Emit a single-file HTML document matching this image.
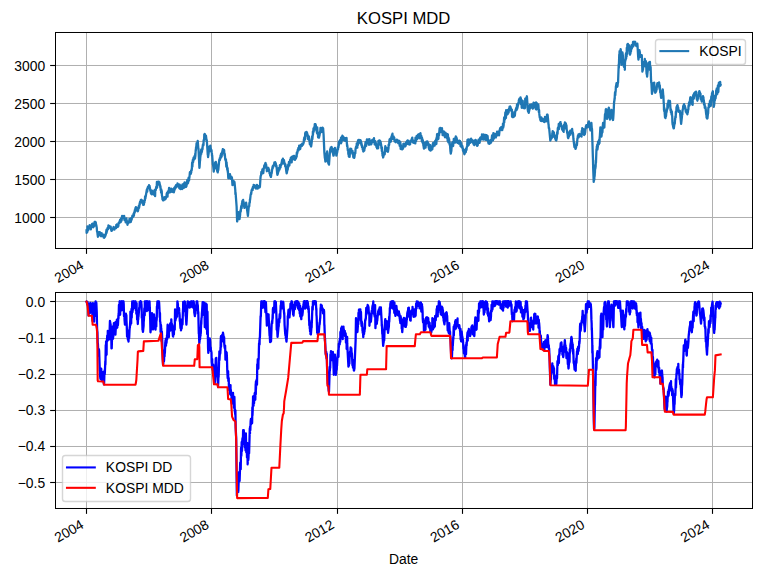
<!DOCTYPE html>
<html><head><meta charset="utf-8"><title>KOSPI MDD</title>
<style>html,body{margin:0;padding:0;background:#fff;font-family:"Liberation Sans",sans-serif;}svg{display:block}</style>
</head><body>
<svg width="762" height="577" viewBox="41.5100 37.4595 548.6400 415.4400" version="1.1"> <defs> <style type="text/css">*{stroke-linejoin: round; stroke-linecap: butt}</style> </defs> <g id="figure_1"> <g id="patch_1"> <path d="M 0 504 L 648 504 L 648 0 L 0 0 z " style="fill: #ffffff"/> </g> <g id="axes_1"> <g id="patch_2"> <path d="M 81 216.26 L 583.2 216.26 L 583.2 60.48 L 81 60.48 z " style="fill: #ffffff"/> </g> <g id="matplotlib.axis_1"> <g id="xtick_1"> <g id="line2d_1"> <path d="M 103.79 216.37 L 103.79 60.85" clip-path="url(#p7fc77e7408)" style="fill: none; stroke: #b0b0b0; stroke-width: 0.72; stroke-linecap: square"/> </g> <g id="line2d_2"> <defs> <path id="m1504cfccaf" d="M 0 0 L 0 3.5 " style="stroke: #000000; stroke-width: 0.8"/> </defs> <g> <use href="#m1504cfccaf" x="103.7900" y="216.7395" style="stroke: #000000; stroke-width: 0.72"/> </g> </g> <g id="text_1"> <!-- 2004 --> <text transform="translate(80.5003 242.9993) rotate(-30)" x="25.45" y="0" text-anchor="end" font-size="10" fill="#000000" font-family="'Liberation Sans', sans-serif">2004</text> </g> </g> <g id="xtick_2"> <g id="line2d_3"> <path d="M 193.79 216.37 L 193.79 60.85" clip-path="url(#p7fc77e7408)" style="fill: none; stroke: #b0b0b0; stroke-width: 0.72; stroke-linecap: square"/> </g> <g id="line2d_4"> <g> <use href="#m1504cfccaf" x="193.7900" y="216.7395" style="stroke: #000000; stroke-width: 0.72"/> </g> </g> <g id="text_2"> <!-- 2008 --> <text transform="translate(170.6493 242.9993) rotate(-30)" x="25.45" y="0" text-anchor="end" font-size="10" fill="#000000" font-family="'Liberation Sans', sans-serif">2008</text> </g> </g> <g id="xtick_3"> <g id="line2d_5"> <path d="M 284.51 216.37 L 284.51 60.85" clip-path="url(#p7fc77e7408)" style="fill: none; stroke: #b0b0b0; stroke-width: 0.72; stroke-linecap: square"/> </g> <g id="line2d_6"> <g> <use href="#m1504cfccaf" x="284.5100" y="216.7395" style="stroke: #000000; stroke-width: 0.72"/> </g> </g> <g id="text_3"> <!-- 2012 --> <text transform="translate(260.7984 242.9993) rotate(-30)" x="25.45" y="0" text-anchor="end" font-size="10" fill="#000000" font-family="'Liberation Sans', sans-serif">2012</text> </g> </g> <g id="xtick_4"> <g id="line2d_7"> <path d="M 374.51 216.37 L 374.51 60.85" clip-path="url(#p7fc77e7408)" style="fill: none; stroke: #b0b0b0; stroke-width: 0.72; stroke-linecap: square"/> </g> <g id="line2d_8"> <g> <use href="#m1504cfccaf" x="374.5100" y="216.7395" style="stroke: #000000; stroke-width: 0.72"/> </g> </g> <g id="text_4"> <!-- 2016 --> <text transform="translate(350.9475 242.9993) rotate(-30)" x="25.45" y="0" text-anchor="end" font-size="10" fill="#000000" font-family="'Liberation Sans', sans-serif">2016</text> </g> </g> <g id="xtick_5"> <g id="line2d_9"> <path d="M 464.51 216.37 L 464.51 60.85" clip-path="url(#p7fc77e7408)" style="fill: none; stroke: #b0b0b0; stroke-width: 0.72; stroke-linecap: square"/> </g> <g id="line2d_10"> <g> <use href="#m1504cfccaf" x="464.5100" y="216.7395" style="stroke: #000000; stroke-width: 0.72"/> </g> </g> <g id="text_5"> <!-- 2020 --> <text transform="translate(441.0965 242.9993) rotate(-30)" x="25.45" y="0" text-anchor="end" font-size="10" fill="#000000" font-family="'Liberation Sans', sans-serif">2020</text> </g> </g> <g id="xtick_6"> <g id="line2d_11"> <path d="M 554.51 216.37 L 554.51 60.85" clip-path="url(#p7fc77e7408)" style="fill: none; stroke: #b0b0b0; stroke-width: 0.72; stroke-linecap: square"/> </g> <g id="line2d_12"> <g> <use href="#m1504cfccaf" x="554.5100" y="216.7395" style="stroke: #000000; stroke-width: 0.72"/> </g> </g> <g id="text_6"> <!-- 2024 --> <text transform="translate(531.2456 242.9993) rotate(-30)" x="25.45" y="0" text-anchor="end" font-size="10" fill="#000000" font-family="'Liberation Sans', sans-serif">2024</text> </g> </g> <g id="text_7"> <!-- Date --> <text x="332.10" y="256.6148" text-anchor="middle" font-size="10" fill="#000000" font-family="'Liberation Sans', sans-serif">Date</text> </g> </g> <g id="matplotlib.axis_2"> <g id="ytick_1"> <g id="line2d_13"> <path d="M 81.47 194.05 L 583.31 194.05" clip-path="url(#p7fc77e7408)" style="fill: none; stroke: #b0b0b0; stroke-width: 0.72; stroke-linecap: square"/> </g> <g id="line2d_14"> <defs> <path id="m5d545ce8f8" d="M 0 0 L -3.5 0 " style="stroke: #000000; stroke-width: 0.8"/> </defs> <g> <use href="#m5d545ce8f8" x="81.1100" y="194.0595" style="stroke: #000000; stroke-width: 0.72"/> </g> </g> <g id="text_8"> <!-- 1000 --> <text x="74.00" y="197.9814" text-anchor="end" font-size="10" fill="#000000" font-family="'Liberation Sans', sans-serif">1000</text> </g> </g> <g id="ytick_2"> <g id="line2d_15"> <path d="M 81.47 166.69 L 583.31 166.69" clip-path="url(#p7fc77e7408)" style="fill: none; stroke: #b0b0b0; stroke-width: 0.72; stroke-linecap: square"/> </g> <g id="line2d_16"> <g> <use href="#m5d545ce8f8" x="81.1100" y="166.6995" style="stroke: #000000; stroke-width: 0.72"/> </g> </g> <g id="text_9"> <!-- 1500 --> <text x="74.00" y="170.5954" text-anchor="end" font-size="10" fill="#000000" font-family="'Liberation Sans', sans-serif">1500</text> </g> </g> <g id="ytick_3"> <g id="line2d_17"> <path d="M 81.47 139.33 L 583.31 139.33" clip-path="url(#p7fc77e7408)" style="fill: none; stroke: #b0b0b0; stroke-width: 0.72; stroke-linecap: square"/> </g> <g id="line2d_18"> <g> <use href="#m5d545ce8f8" x="81.1100" y="139.3395" style="stroke: #000000; stroke-width: 0.72"/> </g> </g> <g id="text_10"> <!-- 2000 --> <text x="74.00" y="143.2093" text-anchor="end" font-size="10" fill="#000000" font-family="'Liberation Sans', sans-serif">2000</text> </g> </g> <g id="ytick_4"> <g id="line2d_19"> <path d="M 81.47 111.97 L 583.31 111.97" clip-path="url(#p7fc77e7408)" style="fill: none; stroke: #b0b0b0; stroke-width: 0.72; stroke-linecap: square"/> </g> <g id="line2d_20"> <g> <use href="#m5d545ce8f8" x="81.1100" y="111.9795" style="stroke: #000000; stroke-width: 0.72"/> </g> </g> <g id="text_11"> <!-- 2500 --> <text x="74.00" y="115.8233" text-anchor="end" font-size="10" fill="#000000" font-family="'Liberation Sans', sans-serif">2500</text> </g> </g> <g id="ytick_5"> <g id="line2d_21"> <path d="M 81.47 84.61 L 583.31 84.61" clip-path="url(#p7fc77e7408)" style="fill: none; stroke: #b0b0b0; stroke-width: 0.72; stroke-linecap: square"/> </g> <g id="line2d_22"> <g> <use href="#m5d545ce8f8" x="81.1100" y="84.6195" style="stroke: #000000; stroke-width: 0.72"/> </g> </g> <g id="text_12"> <!-- 3000 --> <text x="74.00" y="88.4372" text-anchor="end" font-size="10" fill="#000000" font-family="'Liberation Sans', sans-serif">3000</text> </g> </g> </g> <g id="line2d_23"> <path d="M 103.82 203.28 L 103.88 205.20 L 103.95 203.54 L 104.01 203.69 L 104.25 203.26 L 104.32 204.54 L 104.38 203.56 L 104.44 203.68 L 104.50 200.42 L 104.93 203.33 L 105.12 202.80 L 105.30 201.26 L 105.36 201.82 L 105.55 201.69 L 105.61 200.45 L 105.67 200.77 L 105.80 201.71 L 105.98 200.99 L 106.04 199.63 L 106.17 201.26 L 106.23 200.36 L 106.41 201.42 L 106.48 201.31 L 106.60 200.14 L 106.66 200.45 L 106.85 199.94 L 106.91 202.60 L 106.97 200.38 L 107.03 201.17 L 107.09 201.99 L 107.40 199.67 L 107.46 200.28 L 107.52 200.97 L 107.77 199.97 L 107.83 198.66 L 107.89 198.71 L 107.96 199.15 L 108.14 198.41 L 108.26 200.09 L 108.39 198.73 L 108.57 199.13 L 108.64 199.74 L 108.70 199.08 L 108.76 201.07 L 108.82 199.10 L 109.01 198.43 L 109.07 199.98 L 109.13 199.07 L 109.19 199.57 L 109.25 198.28 L 109.44 200.02 L 109.50 199.70 L 109.62 197.25 L 109.68 199.68 L 109.87 198.94 L 110.05 197.18 L 110.12 198.18 L 110.42 197.51 L 110.55 198.25 L 110.73 200.06 L 110.79 199.28 L 110.86 199.54 L 111.17 201.39 L 111.41 204.52 L 111.60 204.50 L 111.78 206.47 L 111.84 206.72 L 112.03 207.94 L 112.09 207.75 L 112.15 207.66 L 112.65 204.87 L 112.71 204.60 L 112.89 204.62 L 113.08 205.23 L 113.14 205.10 L 113.32 205.53 L 113.39 204.57 L 113.45 205.01 L 113.51 205.36 L 113.57 206.68 L 113.82 206.97 L 113.88 206.89 L 113.94 207.18 L 114.00 206.79 L 114.19 206.33 L 114.37 207.55 L 114.68 205.28 L 114.74 206.35 L 114.81 206.18 L 114.87 206.44 L 115.05 206.17 L 115.30 206.64 L 115.48 207.11 L 115.55 206.59 L 115.61 206.64 L 115.73 207.44 L 115.92 207.26 L 116.04 208.41 L 116.16 206.41 L 116.53 208.65 L 116.59 208.44 L 116.84 208.09 L 117.03 207.51 L 117.21 207.88 L 117.34 206.86 L 117.46 206.88 L 117.64 206.56 L 118.20 202.84 L 118.26 205.17 L 118.32 203.80 L 118.51 203.99 L 118.75 202.20 L 118.94 202.48 L 119.00 201.51 L 119.12 202.67 L 119.19 201.96 L 119.37 202.43 L 119.56 199.81 L 119.62 201.11 L 119.80 201.61 L 119.93 200.81 L 119.99 201.56 L 120.05 201.05 L 120.24 200.96 L 120.30 200.21 L 120.36 200.86 L 120.42 200.47 L 120.48 200.72 L 120.67 200.60 L 120.79 201.12 L 120.85 201.09 L 120.91 200.84 L 121.10 201.34 L 121.16 201.26 L 121.22 200.57 L 121.35 201.85 L 121.72 203.58 L 121.78 203.29 L 121.96 203.62 L 122.09 203.31 L 122.15 203.42 L 122.21 203.08 L 122.40 203.02 L 122.64 202.38 L 122.83 202.21 L 122.89 201.88 L 122.95 202.16 L 123.07 201.48 L 123.32 200.91 L 123.38 201.63 L 123.44 201.37 L 123.51 201.37 L 123.69 202.05 L 123.75 201.23 L 123.81 201.65 L 123.88 202.78 L 123.94 202.07 L 124.18 201.46 L 124.25 201.96 L 124.37 201.27 L 124.62 201.58 L 124.74 201.54 L 124.80 200.98 L 124.99 200.87 L 125.11 201.77 L 125.17 201.36 L 125.23 199.44 L 125.48 200.58 L 125.54 200.31 L 125.60 200.59 L 125.67 198.95 L 125.85 200.31 L 125.91 199.85 L 125.97 200.09 L 126.04 199.80 L 126.28 200.84 L 126.34 199.06 L 126.41 199.77 L 126.47 199.82 L 126.53 200.48 L 126.71 200.27 L 126.96 197.87 L 127.15 197.77 L 127.21 198.26 L 127.33 197.68 L 127.39 198.11 L 127.64 196.66 L 127.70 197.13 L 127.76 197.67 L 128.01 195.55 L 128.20 196.91 L 128.26 195.80 L 128.44 197.41 L 128.57 195.20 L 128.63 196.27 L 128.69 194.79 L 128.87 194.67 L 129.06 196.22 L 129.12 195.79 L 129.31 193.45 L 129.37 194.74 L 129.43 192.99 L 129.49 193.79 L 129.55 193.23 L 129.74 193.47 L 129.86 194.11 L 129.98 193.23 L 130.17 193.11 L 130.60 194.59 L 130.66 193.61 L 130.73 194.23 L 130.85 192.82 L 131.03 194.01 L 131.16 195.94 L 131.28 194.44 L 131.47 194.89 L 131.53 194.84 L 131.71 195.98 L 131.90 196.29 L 132.02 197.61 L 132.08 197.06 L 132.14 197.37 L 132.33 197.57 L 132.51 194.73 L 132.76 197.05 L 132.82 196.61 L 132.88 196.80 L 132.95 197.64 L 133.01 196.75 L 133.19 197.89 L 133.25 199.31 L 133.44 197.60 L 133.69 198.36 L 133.75 198.17 L 133.87 198.19 L 134.06 197.81 L 134.12 197.06 L 134.18 197.30 L 134.24 197.46 L 134.30 197.35 L 134.49 196.57 L 134.55 197.43 L 134.74 195.05 L 134.98 196.97 L 135.04 196.05 L 135.11 196.46 L 135.17 196.07 L 135.35 195.81 L 135.41 195.00 L 135.60 197.42 L 135.85 196.51 L 135.91 194.52 L 135.97 195.33 L 136.03 195.57 L 136.22 195.80 L 136.34 194.42 L 136.40 195.26 L 136.46 194.19 L 136.65 193.87 L 136.71 193.41 L 136.77 194.19 L 136.83 192.70 L 136.90 193.08 L 137.08 193.36 L 137.14 193.75 L 137.20 193.63 L 137.27 192.74 L 137.33 193.19 L 137.70 191.28 L 137.94 192.81 L 138.07 190.60 L 138.13 190.60 L 138.19 190.18 L 138.44 190.25 L 138.50 190.54 L 138.56 188.75 L 138.62 188.92 L 138.81 188.94 L 138.87 189.62 L 138.99 187.25 L 139.06 187.43 L 139.24 188.24 L 139.36 186.54 L 139.49 186.95 L 139.67 186.98 L 139.86 187.23 L 139.92 187.18 L 140.17 187.76 L 140.23 187.20 L 140.29 189.01 L 140.35 188.42 L 140.54 188.82 L 140.72 189.56 L 140.78 189.44 L 141.03 188.54 L 141.15 187.10 L 141.21 187.28 L 141.46 186.38 L 141.52 185.45 L 141.65 187.08 L 141.83 185.39 L 141.89 185.80 L 142.08 183.68 L 142.26 184.09 L 142.33 182.74 L 142.39 184.28 L 142.45 182.77 L 142.51 183.67 L 142.70 182.82 L 142.82 181.74 L 142.94 181.34 L 143.19 181.36 L 143.31 181.71 L 143.37 181.35 L 143.68 183.20 L 143.81 181.81 L 143.99 181.90 L 144.11 183.59 L 144.18 183.07 L 144.24 183.99 L 144.42 183.96 L 144.48 184.08 L 144.67 185.00 L 144.86 185.01 L 145.04 184.19 L 145.10 184.81 L 145.35 183.01 L 145.41 183.49 L 145.47 181.99 L 145.53 183.20 L 145.78 180.98 L 145.84 181.69 L 145.97 179.02 L 146.21 180.40 L 146.34 178.36 L 146.40 179.11 L 147.26 173.80 L 147.45 173.81 L 147.51 175.56 L 147.57 174.19 L 147.63 174.33 L 147.69 172.87 L 147.88 173.35 L 148.00 173.14 L 148.06 171.80 L 148.13 172.61 L 148.31 172.91 L 148.37 172.49 L 148.43 172.94 L 148.56 172.33 L 148.74 171.73 L 148.80 170.76 L 148.87 171.47 L 149.17 171.17 L 149.36 172.35 L 149.42 172.36 L 149.67 174.22 L 149.73 174.90 L 149.79 174.43 L 149.85 174.09 L 150.22 176.76 L 150.47 176.78 L 150.53 176.52 L 150.59 176.55 L 150.66 177.31 L 150.72 176.00 L 150.90 174.75 L 150.96 176.06 L 151.03 175.92 L 151.09 175.97 L 151.15 175.52 L 151.33 177.28 L 151.40 175.20 L 151.46 176.27 L 151.52 175.12 L 151.58 175.73 L 151.83 176.28 L 151.89 175.35 L 151.95 176.55 L 152.01 176.52 L 152.20 176.55 L 152.26 177.63 L 152.44 175.17 L 152.63 175.57 L 152.69 174.68 L 152.75 176.20 L 152.81 175.94 L 152.88 174.27 L 153.06 174.28 L 153.19 178.70 L 153.31 174.68 L 153.49 174.63 L 153.56 174.40 L 153.62 173.45 L 153.68 174.32 L 153.93 172.20 L 154.05 171.91 L 154.11 172.64 L 154.17 171.76 L 154.36 171.78 L 154.48 168.37 L 154.60 172.63 L 154.85 169.96 L 154.97 168.46 L 155.04 170.02 L 155.22 170.45 L 155.28 168.68 L 155.34 170.23 L 155.41 168.71 L 155.47 169.37 L 155.78 168.31 L 155.84 168.30 L 155.90 169.45 L 156.27 168.70 L 156.58 170.45 L 156.70 171.18 L 156.76 170.75 L 156.95 172.60 L 157.01 171.50 L 157.07 172.10 L 157.20 174.45 L 157.38 174.39 L 157.44 173.99 L 157.50 176.18 L 157.57 174.61 L 157.63 173.89 L 157.87 176.08 L 157.94 174.85 L 158.00 175.62 L 158.06 177.87 L 158.43 179.81 L 158.49 181.05 L 158.68 181.02 L 158.86 181.69 L 158.92 181.49 L 159.11 181.39 L 159.17 181.67 L 159.29 180.26 L 159.36 180.96 L 159.54 179.75 L 159.66 180.95 L 159.73 179.54 L 159.79 180.84 L 159.97 179.66 L 160.16 181.03 L 160.22 181.06 L 160.40 179.37 L 160.47 179.47 L 160.53 179.58 L 160.59 179.96 L 160.65 179.33 L 160.90 180.55 L 160.96 179.79 L 161.02 179.98 L 161.08 179.87 L 161.39 178.70 L 161.52 176.96 L 161.70 176.43 L 161.89 178.80 L 161.95 178.15 L 162.13 179.05 L 162.32 175.33 L 162.38 175.34 L 162.56 176.55 L 162.69 175.75 L 162.75 176.49 L 162.81 175.34 L 163.00 175.42 L 163.24 172.67 L 163.49 174.94 L 163.61 173.09 L 163.67 174.72 L 163.86 174.65 L 163.92 175.89 L 163.98 175.27 L 164.05 174.11 L 164.11 174.49 L 164.29 174.92 L 164.35 175.78 L 164.54 173.61 L 164.72 173.78 L 164.79 174.88 L 164.85 173.31 L 164.91 173.86 L 164.97 174.03 L 165.16 173.79 L 165.22 174.03 L 165.28 173.90 L 165.40 174.00 L 165.59 173.75 L 165.71 173.98 L 165.77 175.66 L 165.83 175.36 L 166.08 175.13 L 166.20 175.79 L 166.27 175.50 L 166.51 175.21 L 166.57 175.57 L 166.64 174.47 L 166.70 175.91 L 166.88 175.18 L 166.95 172.82 L 167.01 173.64 L 167.07 173.52 L 167.13 174.56 L 167.32 172.38 L 167.38 173.86 L 167.44 172.98 L 167.50 172.67 L 167.56 173.46 L 167.75 171.69 L 167.81 173.07 L 167.87 172.92 L 167.93 172.27 L 167.99 172.34 L 168.24 170.79 L 168.43 172.10 L 168.61 171.87 L 168.67 170.79 L 168.73 171.26 L 168.80 170.85 L 168.86 171.10 L 169.04 171.70 L 169.10 170.45 L 169.17 171.61 L 169.23 171.08 L 169.29 169.59 L 169.60 171.33 L 169.66 170.91 L 169.72 171.00 L 169.97 170.36 L 170.03 170.40 L 170.09 170.15 L 170.15 170.32 L 170.34 170.32 L 170.52 171.83 L 170.59 173.00 L 170.83 172.14 L 170.89 170.49 L 170.96 170.95 L 171.02 172.02 L 171.26 170.90 L 171.45 173.68 L 171.63 173.68 L 171.76 172.18 L 171.82 172.91 L 171.88 173.41 L 172.19 173.46 L 172.56 171.75 L 172.68 173.54 L 172.75 171.27 L 172.93 170.16 L 172.99 172.00 L 173.05 171.06 L 173.36 170.03 L 173.42 170.59 L 173.49 170.15 L 173.55 169.98 L 173.61 170.04 L 173.79 171.40 L 173.86 172.85 L 174.04 169.96 L 174.29 169.01 L 174.35 169.21 L 174.41 169.05 L 174.47 168.76 L 174.78 169.35 L 175.34 172.09 L 175.52 171.87 L 175.71 171.13 L 175.77 171.56 L 176.14 168.14 L 176.20 168.57 L 176.39 166.91 L 176.51 169.82 L 176.57 167.70 L 176.63 168.23 L 176.82 168.72 L 176.88 168.56 L 176.94 169.21 L 177.00 168.05 L 177.06 168.29 L 177.31 165.41 L 177.43 167.63 L 177.50 166.81 L 177.68 167.19 L 177.80 165.03 L 177.87 165.30 L 177.93 165.07 L 178.18 162.15 L 178.24 161.48 L 178.30 162.45 L 178.36 161.92 L 178.55 162.70 L 178.61 161.93 L 178.67 162.79 L 178.73 161.43 L 178.79 162.64 L 178.98 162.32 L 179.10 160.35 L 179.16 161.73 L 179.22 161.26 L 179.47 159.46 L 179.53 160.15 L 179.66 158.75 L 179.84 154.48 L 179.90 154.50 L 180.03 157.49 L 180.27 153.11 L 180.33 153.27 L 180.40 152.46 L 180.52 154.42 L 180.89 151.00 L 180.95 152.80 L 181.14 151.64 L 181.20 152.05 L 181.26 150.69 L 181.32 151.57 L 181.38 151.85 L 181.57 151.71 L 181.63 149.78 L 181.69 150.31 L 181.82 151.79 L 182.00 151.14 L 182.06 148.21 L 182.12 150.29 L 182.19 149.75 L 182.43 145.29 L 182.49 145.86 L 182.68 143.41 L 182.86 143.01 L 183.05 140.49 L 183.11 142.74 L 183.30 140.61 L 183.42 142.50 L 183.48 140.77 L 183.54 140.96 L 183.85 138.98 L 183.91 139.14 L 184.35 145.04 L 184.41 144.33 L 185.09 158.32 L 185.21 157.56 L 185.46 153.42 L 185.52 153.31 L 185.58 152.96 L 185.70 150.88 L 186.13 147.62 L 186.38 145.21 L 186.44 148.27 L 186.51 144.95 L 186.57 146.24 L 186.75 145.33 L 186.81 147.05 L 186.88 146.50 L 187.00 145.96 L 187.25 143.71 L 187.31 145.04 L 187.37 144.34 L 187.43 142.95 L 187.62 141.52 L 187.68 142.13 L 187.74 142.05 L 187.80 141.64 L 187.86 142.29 L 188.05 141.75 L 188.11 138.45 L 188.23 138.84 L 188.29 138.32 L 188.48 138.10 L 188.60 134.18 L 188.66 135.59 L 188.73 135.14 L 188.91 136.35 L 188.97 133.94 L 189.04 134.00 L 189.10 135.99 L 189.16 134.30 L 189.59 135.57 L 189.78 135.16 L 190.21 138.51 L 190.27 139.35 L 190.33 138.67 L 190.39 138.30 L 191.13 148.95 L 191.19 148.38 L 191.32 150.56 L 191.75 147.71 L 192.12 143.22 L 192.18 142.95 L 192.37 142.90 L 192.43 143.65 L 192.49 143.57 L 192.55 143.57 L 192.61 144.52 L 192.80 144.37 L 192.98 142.39 L 193.23 144.75 L 193.35 144.47 L 193.48 146.54 L 193.79 145.50 L 193.91 147.01 L 194.09 147.80 L 194.16 149.77 L 194.22 149.06 L 194.28 149.30 L 194.77 155.81 L 194.96 156.37 L 195.39 161.00 L 195.95 157.61 L 196.01 158.42 L 196.07 158.99 L 196.25 158.32 L 196.44 154.39 L 196.50 155.70 L 196.69 155.54 L 196.81 154.34 L 196.87 154.44 L 196.93 154.03 L 197.37 156.03 L 197.67 159.07 L 197.74 158.33 L 197.80 159.65 L 197.98 160.96 L 198.04 160.61 L 198.17 161.16 L 198.23 161.61 L 198.54 159.90 L 198.60 159.19 L 198.66 159.87 L 199.40 152.33 L 199.46 152.61 L 199.52 152.60 L 199.71 152.75 L 199.77 151.24 L 199.83 152.25 L 199.89 152.69 L 199.96 151.32 L 200.14 151.68 L 200.27 149.55 L 200.33 149.99 L 200.39 149.98 L 200.64 148.31 L 200.76 150.82 L 200.82 148.14 L 201.01 147.67 L 201.07 150.07 L 201.13 150.04 L 201.19 148.49 L 201.25 148.87 L 201.62 146.06 L 201.68 147.08 L 201.93 144.91 L 202.05 145.09 L 202.12 144.92 L 202.30 145.22 L 202.49 146.88 L 202.55 146.06 L 202.73 145.72 L 202.79 145.34 L 202.86 145.62 L 202.92 145.90 L 202.98 147.53 L 203.17 149.41 L 203.29 148.10 L 203.35 148.49 L 203.72 152.63 L 203.78 151.62 L 203.84 152.73 L 204.03 153.20 L 204.09 152.85 L 204.15 153.16 L 204.21 152.28 L 204.28 154.68 L 204.46 157.54 L 204.65 154.32 L 204.71 155.60 L 204.95 157.43 L 205.08 159.43 L 205.14 158.68 L 205.32 160.31 L 205.39 158.53 L 205.51 161.51 L 205.57 160.35 L 205.88 165.84 L 205.94 165.48 L 206.00 163.37 L 206.25 163.72 L 206.31 164.67 L 206.37 163.80 L 206.44 164.18 L 206.62 165.31 L 206.68 165.29 L 206.81 163.66 L 206.87 164.42 L 207.05 164.26 L 207.11 162.84 L 207.24 166.03 L 207.30 164.45 L 207.48 164.47 L 207.67 165.32 L 207.92 164.86 L 207.98 165.44 L 208.04 164.65 L 208.16 166.39 L 208.35 165.69 L 208.41 165.89 L 208.47 165.25 L 208.53 165.70 L 208.90 170.73 L 209.21 170.54 L 209.40 169.19 L 209.46 168.03 L 209.64 167.70 L 209.71 168.89 L 209.77 167.84 L 209.83 167.91 L 209.89 168.95 L 210.26 168.43 L 210.32 168.49 L 210.94 174.76 L 211.00 177.30 L 211.06 176.78 L 211.12 176.14 L 211.87 186.14 L 212.24 196.84 L 212.30 196.87 L 212.42 195.93 L 212.48 196.13 L 213.10 190.70 L 213.16 190.13 L 213.22 190.42 L 213.28 190.51 L 213.65 193.62 L 213.72 193.60 L 213.78 194.40 L 213.96 195.23 L 214.40 192.09 L 214.46 190.14 L 214.52 190.39 L 214.58 190.27 L 214.64 188.94 L 214.83 189.77 L 214.89 189.16 L 215.07 186.73 L 215.26 185.70 L 215.51 187.34 L 215.69 184.10 L 215.75 184.98 L 215.81 184.94 L 215.94 182.63 L 216.12 182.01 L 216.18 182.73 L 216.55 181.42 L 216.62 181.83 L 217.17 184.13 L 217.23 185.84 L 217.54 187.12 L 217.67 186.76 L 217.85 186.31 L 217.91 185.38 L 217.97 185.90 L 218.04 186.22 L 218.28 184.10 L 218.34 184.14 L 218.41 184.91 L 218.47 184.59 L 218.71 183.41 L 220.01 192.83 L 220.63 186.00 L 220.69 186.74 L 220.87 185.73 L 220.94 186.03 L 221.00 185.58 L 221.06 183.60 L 221.12 183.78 L 221.37 183.26 L 221.49 181.05 L 221.55 181.47 L 221.98 177.59 L 222.23 176.97 L 222.29 176.25 L 222.36 177.26 L 222.60 175.17 L 222.66 174.36 L 222.73 174.78 L 222.79 174.91 L 222.85 174.55 L 223.03 174.55 L 223.22 173.07 L 223.28 173.88 L 223.47 173.02 L 223.53 174.18 L 223.59 172.09 L 223.65 172.42 L 223.71 171.86 L 223.90 172.53 L 224.08 171.19 L 224.14 170.58 L 224.33 171.52 L 224.39 170.82 L 224.45 170.91 L 224.51 170.99 L 224.58 170.72 L 224.76 170.86 L 225.26 172.65 L 225.32 172.62 L 225.44 171.91 L 225.81 173.15 L 225.87 172.97 L 226.06 173.17 L 226.18 172.12 L 226.24 172.61 L 226.30 172.64 L 226.49 170.52 L 226.61 171.79 L 226.67 171.45 L 226.74 171.97 L 226.92 171.98 L 226.98 171.65 L 227.04 173.27 L 227.11 171.45 L 227.17 172.13 L 227.35 171.86 L 227.48 171.40 L 227.60 171.42 L 227.97 172.57 L 228.03 171.92 L 228.28 171.95 L 228.34 171.79 L 228.46 172.37 L 228.65 171.95 L 229.08 165.27 L 229.27 163.91 L 229.33 163.98 L 229.51 163.43 L 229.70 161.18 L 229.94 162.34 L 230.07 160.95 L 230.13 162.53 L 230.19 161.08 L 230.38 160.49 L 230.44 159.38 L 230.56 162.01 L 230.62 160.46 L 230.81 161.84 L 230.87 161.42 L 230.93 161.52 L 230.99 161.42 L 231.06 162.08 L 231.24 160.55 L 231.43 158.40 L 231.49 158.86 L 231.80 156.47 L 231.86 158.37 L 231.92 157.26 L 232.10 157.44 L 232.23 156.05 L 232.29 156.45 L 232.54 154.92 L 232.66 154.77 L 232.97 156.74 L 233.03 156.53 L 233.09 155.90 L 233.15 156.24 L 233.40 158.66 L 233.46 157.98 L 233.52 158.47 L 233.65 160.79 L 233.83 160.09 L 233.89 160.24 L 233.96 158.23 L 234.02 158.87 L 234.08 160.00 L 234.26 160.05 L 234.33 158.38 L 234.39 159.88 L 234.45 159.05 L 234.51 159.05 L 234.70 158.33 L 234.94 159.99 L 235.13 159.87 L 235.19 160.64 L 235.25 159.42 L 235.37 160.88 L 235.56 162.25 L 235.62 162.11 L 235.74 162.30 L 235.81 161.87 L 236.05 163.89 L 236.11 163.02 L 236.18 163.65 L 236.24 164.10 L 236.42 164.17 L 236.55 164.85 L 236.61 164.71 L 236.98 161.91 L 237.04 162.46 L 237.10 162.19 L 237.41 159.71 L 237.47 159.00 L 237.53 159.35 L 237.72 157.66 L 237.78 158.82 L 237.84 158.75 L 237.90 157.13 L 237.97 157.72 L 238.15 156.76 L 238.27 157.66 L 239.02 155.10 L 239.08 154.32 L 239.14 154.90 L 239.26 154.32 L 239.51 156.29 L 239.63 154.17 L 239.69 154.69 L 239.88 154.73 L 240.06 155.02 L 240.37 157.40 L 240.43 157.54 L 240.56 156.76 L 240.99 161.49 L 241.24 163.28 L 241.30 163.14 L 241.61 162.41 L 241.67 161.31 L 241.73 161.56 L 241.85 160.61 L 242.04 161.05 L 242.22 158.49 L 242.29 158.41 L 242.72 159.56 L 242.90 158.96 L 243.03 156.34 L 243.09 157.51 L 243.15 156.69 L 243.33 157.61 L 243.40 157.21 L 243.46 157.50 L 243.52 158.00 L 243.58 156.75 L 243.77 155.89 L 243.83 155.98 L 243.89 156.00 L 243.95 156.28 L 244.01 155.60 L 244.20 155.33 L 244.26 154.57 L 244.32 155.36 L 244.44 153.72 L 244.69 152.54 L 244.88 155.20 L 245.06 153.98 L 245.19 151.62 L 245.25 154.71 L 245.31 154.28 L 245.68 152.83 L 245.74 152.87 L 245.93 152.66 L 246.36 155.51 L 246.42 155.42 L 246.54 155.10 L 246.60 155.70 L 246.79 156.00 L 246.85 157.23 L 246.91 157.00 L 246.97 156.75 L 247.04 155.85 L 247.65 160.80 L 247.90 162.27 L 248.09 161.70 L 248.27 160.40 L 248.33 160.35 L 248.52 158.88 L 248.58 159.77 L 248.64 159.58 L 248.70 159.33 L 248.95 156.47 L 249.07 155.93 L 249.20 157.51 L 249.57 154.05 L 249.63 154.87 L 249.81 154.85 L 249.87 156.54 L 250.00 154.53 L 250.06 154.93 L 250.25 153.85 L 250.31 154.66 L 250.37 154.48 L 250.43 152.33 L 250.49 152.49 L 250.74 152.19 L 250.80 152.23 L 250.86 152.55 L 250.92 150.90 L 251.29 152.62 L 251.36 154.37 L 251.54 154.32 L 251.66 150.43 L 251.79 151.64 L 251.97 150.90 L 252.03 151.97 L 252.10 150.00 L 252.16 151.57 L 252.40 152.21 L 252.59 150.28 L 252.65 150.57 L 252.90 150.72 L 252.96 150.80 L 253.08 149.69 L 253.27 149.73 L 253.33 151.32 L 253.39 151.15 L 253.45 151.05 L 253.70 152.22 L 253.82 152.58 L 254.26 150.59 L 254.32 151.61 L 254.38 151.06 L 254.56 151.62 L 254.75 150.73 L 255.00 149.15 L 255.06 148.77 L 255.12 150.39 L 255.18 147.40 L 255.24 147.82 L 255.43 148.13 L 255.49 147.85 L 255.55 146.81 L 255.61 147.45 L 255.92 145.29 L 255.98 145.95 L 256.11 144.88 L 256.29 145.07 L 256.35 143.91 L 256.42 144.54 L 256.48 145.79 L 256.54 144.88 L 256.85 144.31 L 256.91 142.30 L 256.97 143.43 L 257.16 143.46 L 257.22 144.10 L 257.28 142.90 L 257.34 143.66 L 257.40 144.54 L 257.59 144.82 L 257.71 142.56 L 257.77 144.28 L 257.83 144.01 L 258.08 141.73 L 258.14 142.68 L 258.20 142.37 L 258.27 141.76 L 258.51 141.52 L 258.58 141.60 L 258.64 141.88 L 258.70 141.69 L 258.88 141.51 L 258.95 142.56 L 259.01 141.93 L 259.07 140.96 L 259.13 141.33 L 259.32 141.34 L 259.38 141.79 L 259.44 141.56 L 259.50 141.82 L 259.56 141.60 L 259.75 140.98 L 259.81 141.03 L 259.87 141.07 L 259.99 140.56 L 260.18 140.20 L 260.30 138.40 L 260.36 137.59 L 260.43 138.29 L 260.61 136.40 L 260.80 138.43 L 260.86 136.69 L 261.10 137.77 L 261.23 133.65 L 261.48 132.73 L 261.54 135.25 L 261.60 134.53 L 261.66 133.35 L 261.72 133.55 L 261.91 135.12 L 261.97 134.34 L 262.03 135.08 L 262.09 134.75 L 262.15 132.43 L 262.34 132.70 L 262.40 133.20 L 262.46 133.10 L 262.52 132.83 L 262.89 134.40 L 262.96 134.34 L 263.20 137.53 L 263.26 137.49 L 263.45 136.56 L 263.63 137.13 L 263.70 136.77 L 263.76 138.12 L 263.88 135.63 L 264.13 138.12 L 264.19 137.51 L 264.62 141.47 L 264.75 139.37 L 264.93 141.63 L 265.12 141.53 L 265.36 142.56 L 265.42 142.63 L 265.55 142.91 L 265.98 139.57 L 266.23 135.68 L 266.41 137.70 L 266.66 134.97 L 266.72 134.94 L 266.78 132.22 L 266.84 134.53 L 266.91 133.56 L 267.15 131.56 L 267.21 129.98 L 267.34 132.40 L 267.58 130.46 L 267.65 130.66 L 267.71 130.96 L 267.77 129.07 L 267.95 129.97 L 268.02 129.81 L 268.14 126.76 L 268.20 127.12 L 268.39 127.72 L 268.45 127.67 L 268.63 126.81 L 268.88 127.48 L 269.25 130.75 L 269.31 128.77 L 269.37 131.51 L 269.43 130.30 L 269.50 131.78 L 269.74 133.24 L 269.93 129.20 L 270.18 134.03 L 270.30 132.80 L 270.55 136.33 L 270.61 134.03 L 270.67 134.28 L 271.10 136.62 L 271.16 136.68 L 271.22 136.42 L 271.41 135.05 L 271.47 135.29 L 271.53 135.21 L 271.66 133.96 L 271.84 133.40 L 271.90 133.46 L 271.96 132.12 L 272.03 133.05 L 272.27 129.56 L 272.46 132.67 L 272.52 131.54 L 272.77 132.50 L 272.95 130.14 L 273.14 130.28 L 273.20 129.61 L 273.26 129.70 L 273.38 129.55 L 273.57 129.60 L 273.63 129.37 L 273.75 131.84 L 273.82 130.94 L 274.00 132.31 L 274.12 129.73 L 274.19 130.32 L 274.49 134.37 L 274.68 138.69 L 275.05 147.16 L 275.42 151.31 L 275.54 151.50 L 275.79 153.78 L 275.85 153.56 L 276.16 150.77 L 276.22 150.74 L 276.41 148.65 L 276.59 147.91 L 276.65 148.12 L 276.72 148.09 L 276.78 147.76 L 276.84 149.10 L 277.02 150.07 L 277.09 146.44 L 277.15 147.80 L 277.46 154.03 L 277.52 151.28 L 277.58 151.99 L 277.64 154.03 L 277.70 152.45 L 277.95 155.29 L 278.01 154.94 L 278.38 156.04 L 278.57 153.35 L 278.94 148.40 L 279.00 147.57 L 279.18 147.43 L 279.25 144.80 L 279.31 146.14 L 279.37 145.50 L 279.43 145.58 L 279.62 146.60 L 279.68 143.53 L 279.74 144.73 L 279.80 145.33 L 279.86 144.63 L 280.05 144.46 L 280.29 143.31 L 280.66 145.50 L 280.73 145.29 L 280.91 145.86 L 280.97 144.71 L 281.04 147.06 L 281.10 146.67 L 281.16 147.46 L 281.59 149.57 L 281.78 149.35 L 282.02 146.72 L 282.21 146.18 L 282.27 145.15 L 282.33 145.33 L 282.64 143.89 L 282.70 144.28 L 283.19 147.05 L 283.26 146.69 L 283.32 146.22 L 283.69 149.47 L 283.75 149.38 L 284.12 147.59 L 284.18 147.75 L 284.43 146.15 L 284.49 145.07 L 284.55 145.36 L 284.80 143.42 L 284.86 145.12 L 284.92 144.82 L 285.05 143.54 L 285.23 143.56 L 285.29 141.56 L 285.35 141.69 L 285.42 142.45 L 285.48 139.52 L 285.66 141.37 L 285.91 139.54 L 286.09 140.30 L 286.22 139.62 L 286.28 140.36 L 286.34 138.28 L 286.53 138.21 L 286.65 139.14 L 286.71 138.87 L 286.77 138.19 L 286.96 138.25 L 287.02 136.58 L 287.14 140.64 L 287.21 138.90 L 287.39 139.84 L 287.45 138.32 L 287.51 138.38 L 287.64 137.04 L 287.82 136.65 L 288.01 135.22 L 288.07 135.81 L 288.25 135.35 L 288.32 135.78 L 288.50 138.38 L 288.69 136.69 L 288.75 137.98 L 288.93 136.38 L 289.12 136.39 L 289.24 136.64 L 289.30 137.51 L 289.37 137.00 L 289.55 136.78 L 289.61 138.58 L 289.67 136.90 L 289.74 137.26 L 289.80 137.15 L 289.98 138.96 L 290.11 137.11 L 290.23 138.84 L 290.48 136.84 L 290.60 137.10 L 290.66 138.64 L 290.85 138.66 L 290.91 138.54 L 290.97 139.03 L 291.03 136.78 L 291.28 141.22 L 291.34 140.74 L 291.40 142.68 L 291.46 142.18 L 291.52 141.86 L 291.96 145.93 L 292.14 145.32 L 292.33 148.56 L 292.39 147.62 L 292.70 150.26 L 292.82 149.87 L 293.01 148.16 L 293.07 148.28 L 293.25 150.48 L 293.68 144.45 L 293.87 145.50 L 294.12 144.65 L 294.36 144.96 L 294.42 144.63 L 294.73 146.65 L 294.86 147.39 L 294.92 147.29 L 294.98 146.58 L 295.17 146.81 L 295.23 146.09 L 295.29 146.14 L 295.35 146.70 L 295.41 148.63 L 295.60 148.13 L 295.66 147.41 L 295.84 150.36 L 296.03 150.87 L 296.21 150.04 L 296.28 150.81 L 296.46 150.81 L 296.58 151.10 L 296.71 150.54 L 297.08 147.48 L 297.14 147.52 L 297.32 147.99 L 297.51 144.72 L 297.82 143.27 L 297.94 144.09 L 298.19 142.37 L 298.31 143.35 L 298.37 140.65 L 298.44 140.81 L 298.68 141.69 L 298.74 143.82 L 298.81 143.30 L 299.05 139.60 L 299.11 142.11 L 299.18 141.58 L 299.24 138.73 L 299.30 138.90 L 299.48 138.92 L 299.55 138.16 L 299.67 139.46 L 299.73 138.78 L 299.92 138.50 L 299.98 139.20 L 300.04 138.46 L 300.10 138.98 L 300.35 138.25 L 300.60 139.69 L 300.84 140.58 L 300.97 139.74 L 301.03 138.41 L 301.21 139.18 L 301.27 138.77 L 301.34 140.75 L 301.40 139.59 L 301.46 140.17 L 301.64 139.95 L 301.77 142.12 L 301.83 140.84 L 301.89 141.22 L 302.08 142.24 L 302.14 143.35 L 302.20 143.28 L 302.32 142.48 L 302.57 144.32 L 302.63 143.79 L 302.69 145.17 L 302.75 143.81 L 303.00 145.02 L 303.06 146.57 L 303.13 146.50 L 303.19 146.20 L 303.37 146.05 L 303.43 146.20 L 303.62 145.55 L 303.80 146.00 L 303.99 143.71 L 304.05 144.41 L 304.24 143.49 L 304.42 141.60 L 304.48 142.26 L 304.67 139.80 L 304.73 142.75 L 304.79 142.33 L 304.85 140.54 L 304.91 141.04 L 305.10 141.13 L 305.16 142.48 L 305.22 139.94 L 305.28 142.05 L 305.35 140.33 L 305.53 139.75 L 305.65 137.91 L 305.78 140.30 L 305.96 139.75 L 306.09 140.77 L 306.15 138.68 L 306.21 138.96 L 306.64 137.94 L 306.89 138.43 L 306.95 138.99 L 307.01 138.26 L 307.26 141.71 L 307.32 139.60 L 307.38 139.84 L 307.44 140.60 L 307.51 137.58 L 307.69 139.43 L 307.81 141.38 L 307.88 140.50 L 307.94 140.84 L 308.12 140.40 L 308.18 140.50 L 308.31 141.45 L 308.62 141.45 L 308.74 140.65 L 308.80 141.36 L 309.05 140.68 L 309.23 138.59 L 309.48 139.02 L 309.67 138.13 L 309.85 138.06 L 309.97 138.83 L 310.04 137.99 L 310.28 138.06 L 310.47 139.52 L 310.53 138.93 L 310.71 139.47 L 310.78 136.95 L 310.84 138.08 L 310.96 139.64 L 311.15 139.85 L 311.27 141.36 L 311.33 139.10 L 311.39 141.26 L 311.58 141.52 L 311.70 139.17 L 311.76 141.46 L 311.83 139.91 L 312.01 141.57 L 312.07 140.17 L 312.13 140.91 L 312.20 142.03 L 312.26 141.54 L 312.44 141.94 L 312.50 143.32 L 312.57 141.47 L 312.63 142.95 L 312.69 142.58 L 313.06 144.33 L 313.12 144.11 L 313.31 142.90 L 313.37 143.06 L 313.43 143.23 L 313.49 143.84 L 313.74 142.15 L 313.80 144.20 L 313.98 138.85 L 314.17 140.91 L 314.23 140.72 L 314.29 140.55 L 314.36 141.70 L 314.42 141.61 L 314.60 141.56 L 314.79 138.46 L 314.85 139.77 L 315.03 140.59 L 315.22 139.22 L 315.28 139.04 L 315.53 139.65 L 315.71 140.53 L 315.96 142.01 L 316.14 144.34 L 316.33 144.55 L 316.45 146.26 L 316.51 143.51 L 316.58 144.87 L 316.82 148.31 L 316.89 146.98 L 316.95 149.67 L 317.01 149.14 L 317.19 149.56 L 317.38 150.84 L 317.81 149.02 L 317.87 148.00 L 318.06 147.98 L 318.12 148.35 L 318.24 147.78 L 318.30 148.65 L 318.49 148.66 L 318.55 148.15 L 318.61 146.27 L 318.67 146.35 L 318.74 146.14 L 318.92 142.75 L 318.98 143.21 L 319.11 145.42 L 319.17 143.80 L 319.35 144.80 L 319.54 143.72 L 319.60 144.21 L 319.79 143.96 L 319.91 144.58 L 319.97 144.31 L 320.03 144.35 L 320.22 146.40 L 320.34 145.28 L 320.71 146.62 L 320.77 146.75 L 320.83 146.70 L 321.27 143.84 L 321.33 141.66 L 321.51 142.35 L 321.57 141.38 L 321.64 141.80 L 321.70 141.76 L 321.94 138.22 L 322.13 137.59 L 322.19 139.97 L 322.44 137.91 L 322.62 139.09 L 322.81 137.12 L 322.93 139.50 L 322.99 138.35 L 323.06 138.48 L 323.24 137.81 L 323.30 135.96 L 323.36 136.96 L 323.49 136.98 L 323.67 134.69 L 323.73 137.64 L 323.80 136.83 L 323.92 134.91 L 324.10 133.76 L 324.17 136.34 L 324.23 135.91 L 324.35 136.99 L 324.54 137.04 L 324.60 137.47 L 324.72 135.89 L 324.78 136.40 L 324.97 135.88 L 325.09 136.43 L 325.15 137.27 L 325.22 136.64 L 325.40 136.79 L 325.59 139.32 L 325.65 138.07 L 326.33 139.84 L 326.45 139.07 L 326.51 139.80 L 326.82 138.48 L 326.88 139.12 L 326.94 138.82 L 327.19 138.03 L 327.31 138.15 L 327.37 138.52 L 327.56 138.78 L 327.62 139.29 L 327.68 139.25 L 327.74 139.06 L 327.81 138.44 L 327.99 138.74 L 328.12 139.80 L 328.18 138.65 L 328.24 140.57 L 328.42 140.64 L 328.49 139.33 L 328.61 140.63 L 328.67 140.11 L 328.86 140.02 L 329.04 138.97 L 329.10 139.43 L 329.29 142.45 L 329.35 141.88 L 329.72 139.71 L 329.78 140.03 L 329.97 144.62 L 330.15 141.93 L 330.34 144.89 L 330.40 144.47 L 330.58 143.91 L 330.77 144.73 L 330.83 144.06 L 331.02 145.01 L 331.08 144.99 L 331.45 144.12 L 331.51 144.68 L 331.63 143.25 L 331.69 144.54 L 331.94 141.05 L 332.00 142.66 L 332.06 142.22 L 332.13 141.49 L 332.31 140.93 L 332.37 140.96 L 332.56 141.99 L 332.74 141.85 L 332.80 142.91 L 332.87 142.16 L 332.99 141.80 L 333.17 142.93 L 333.24 142.70 L 333.36 142.87 L 333.61 142.25 L 333.85 139.95 L 334.04 141.16 L 334.16 140.31 L 334.22 141.35 L 334.29 139.90 L 334.47 139.27 L 334.53 139.80 L 334.66 138.86 L 334.72 138.87 L 334.90 138.81 L 334.96 138.54 L 335.03 139.16 L 335.09 139.06 L 335.15 138.64 L 335.33 138.67 L 335.40 141.13 L 335.46 140.76 L 335.52 140.48 L 335.58 140.53 L 335.83 140.12 L 335.95 140.64 L 336.01 140.50 L 336.26 141.56 L 336.45 140.70 L 336.69 141.25 L 336.75 140.93 L 336.82 141.34 L 336.88 139.41 L 337.06 138.81 L 337.12 138.99 L 337.19 138.97 L 337.31 138.71 L 337.49 138.83 L 337.56 139.00 L 337.62 138.43 L 337.68 138.55 L 337.74 139.47 L 337.99 138.23 L 338.05 137.16 L 338.11 138.78 L 338.17 138.37 L 338.36 136.57 L 338.48 139.07 L 338.54 138.43 L 338.79 139.30 L 338.85 139.11 L 338.97 140.06 L 339.04 138.57 L 339.22 139.42 L 339.28 140.27 L 339.35 139.86 L 339.47 139.29 L 339.72 139.08 L 339.90 139.75 L 340.09 139.47 L 340.15 139.03 L 340.33 140.04 L 340.52 140.70 L 340.64 136.58 L 340.70 138.91 L 340.76 136.83 L 340.95 137.65 L 341.01 139.25 L 341.13 136.97 L 341.20 137.01 L 341.38 137.34 L 341.44 135.44 L 341.50 136.68 L 341.63 135.73 L 341.81 136.70 L 341.88 137.68 L 341.94 137.58 L 342.06 135.51 L 342.25 135.29 L 342.37 134.51 L 342.43 134.82 L 342.49 134.70 L 342.68 134.65 L 342.74 134.29 L 342.80 135.79 L 342.86 135.03 L 343.11 136.61 L 343.17 134.27 L 343.23 135.79 L 343.29 135.03 L 343.36 136.02 L 343.54 135.47 L 343.60 137.03 L 343.73 134.90 L 343.79 135.30 L 343.97 133.81 L 344.03 134.59 L 344.10 134.45 L 344.16 134.72 L 344.22 133.39 L 344.53 136.17 L 344.59 135.42 L 344.65 135.60 L 344.84 135.33 L 345.27 139.30 L 345.33 136.51 L 345.39 137.63 L 345.45 137.86 L 345.52 137.37 L 345.70 138.50 L 345.76 140.23 L 345.82 139.83 L 345.89 138.30 L 346.19 140.03 L 346.32 142.23 L 346.38 142.04 L 346.75 144.40 L 346.81 143.84 L 347.00 144.26 L 347.12 142.68 L 347.18 140.27 L 347.24 141.72 L 347.43 142.24 L 347.61 140.61 L 347.68 140.81 L 347.86 141.96 L 347.92 143.72 L 348.11 139.95 L 348.29 141.87 L 348.35 141.01 L 348.42 141.62 L 348.48 141.95 L 348.54 139.46 L 348.72 139.98 L 348.79 140.52 L 348.85 139.74 L 348.91 140.99 L 348.97 140.93 L 349.16 140.80 L 349.22 139.32 L 349.28 139.78 L 349.40 139.76 L 349.65 140.36 L 349.71 141.02 L 349.77 140.80 L 349.83 140.86 L 350.02 141.85 L 350.08 140.83 L 350.14 143.38 L 350.21 142.28 L 350.27 143.82 L 350.45 144.66 L 350.58 142.39 L 350.70 144.94 L 350.88 145.49 L 350.95 142.49 L 351.01 142.96 L 351.13 143.34 L 351.32 141.98 L 351.56 145.88 L 351.75 145.25 L 351.81 145.38 L 351.87 144.40 L 351.93 145.06 L 352.18 144.83 L 352.24 144.77 L 352.36 144.41 L 352.61 145.11 L 352.67 144.79 L 352.73 144.94 L 352.80 144.76 L 352.86 143.59 L 353.04 143.08 L 353.23 140.48 L 353.29 142.31 L 353.48 142.86 L 353.54 141.04 L 353.60 142.10 L 353.72 140.44 L 353.97 141.31 L 354.03 140.04 L 354.09 140.18 L 354.15 141.05 L 354.34 141.78 L 354.40 141.20 L 354.46 142.25 L 354.52 141.75 L 354.59 141.74 L 354.83 138.97 L 355.02 140.72 L 355.20 140.98 L 355.45 137.86 L 355.63 138.38 L 355.70 141.14 L 355.88 136.54 L 356.13 135.92 L 356.19 134.07 L 356.25 135.85 L 356.31 135.10 L 356.56 135.59 L 356.75 137.86 L 356.93 136.11 L 356.99 136.45 L 357.05 137.46 L 357.12 137.15 L 357.18 137.27 L 357.36 133.50 L 357.42 134.19 L 357.49 133.84 L 357.61 134.96 L 357.98 130.42 L 358.04 129.92 L 358.23 130.07 L 358.29 129.88 L 358.35 129.90 L 358.41 130.06 L 358.47 129.51 L 358.66 130.69 L 358.72 130.64 L 358.84 132.51 L 358.91 130.98 L 359.09 130.50 L 359.21 130.53 L 359.34 132.06 L 359.52 132.33 L 359.58 132.25 L 359.71 129.71 L 360.02 133.36 L 360.08 132.43 L 360.14 132.77 L 360.20 134.73 L 360.39 132.23 L 360.45 132.86 L 360.63 134.81 L 360.82 133.34 L 360.88 134.83 L 360.94 134.30 L 361.06 132.14 L 361.25 133.15 L 361.37 134.89 L 361.50 133.21 L 361.68 134.56 L 361.74 133.94 L 361.81 134.50 L 361.87 136.31 L 361.93 136.27 L 362.18 132.92 L 362.24 133.26 L 362.36 135.27 L 362.61 134.10 L 362.67 136.24 L 362.73 134.59 L 362.79 135.53 L 363.16 133.80 L 363.22 134.11 L 363.47 137.05 L 363.59 135.15 L 363.66 137.39 L 363.84 138.95 L 363.96 134.19 L 364.03 134.98 L 364.09 136.46 L 364.27 136.78 L 364.34 140.04 L 364.40 139.44 L 364.52 136.64 L 364.71 139.91 L 364.77 137.58 L 364.83 137.71 L 364.89 137.54 L 364.95 138.87 L 365.14 139.94 L 365.20 141.41 L 365.26 140.69 L 365.32 140.05 L 365.38 141.90 L 365.57 142.60 L 365.82 146.23 L 366.06 148.10 L 366.12 147.85 L 366.49 146.05 L 366.68 142.75 L 366.93 141.39 L 366.99 142.26 L 367.05 141.80 L 367.11 140.28 L 367.30 139.85 L 367.48 142.73 L 367.54 141.64 L 367.73 140.62 L 367.79 142.60 L 367.85 141.08 L 367.98 139.98 L 368.16 140.31 L 368.22 137.48 L 368.28 137.86 L 368.41 140.25 L 368.65 137.86 L 368.72 138.02 L 368.84 138.27 L 369.02 138.13 L 369.09 138.72 L 369.15 137.23 L 369.21 140.21 L 369.27 139.05 L 369.46 136.41 L 369.58 138.33 L 369.70 135.68 L 369.95 136.74 L 370.01 136.62 L 370.14 136.44 L 370.44 137.53 L 370.57 139.09 L 370.75 138.79 L 370.88 140.32 L 370.94 138.54 L 371.00 138.70 L 371.25 139.66 L 371.37 139.18 L 371.43 139.54 L 371.62 139.16 L 371.68 139.75 L 371.74 139.22 L 371.86 140.89 L 372.17 138.86 L 372.23 139.00 L 372.29 138.78 L 372.48 139.24 L 372.54 138.88 L 372.60 139.61 L 372.67 138.95 L 372.73 139.74 L 372.91 140.30 L 372.97 139.69 L 373.10 142.70 L 373.16 139.97 L 373.34 142.84 L 373.41 142.78 L 373.53 140.51 L 373.90 143.64 L 374.21 143.73 L 374.27 142.29 L 374.33 142.54 L 374.39 143.03 L 374.45 142.80 L 374.76 144.76 L 374.82 145.81 L 374.89 144.71 L 375.07 146.48 L 375.20 144.94 L 375.63 147.57 L 375.69 147.67 L 375.75 148.10 L 375.94 148.53 L 376.12 145.89 L 376.18 145.62 L 376.37 145.79 L 376.43 147.37 L 376.49 147.24 L 376.61 145.52 L 376.86 147.07 L 376.92 146.90 L 376.98 144.68 L 377.05 144.69 L 377.23 144.73 L 377.29 145.20 L 377.35 143.99 L 377.42 145.45 L 377.48 144.32 L 377.85 142.16 L 377.91 141.51 L 378.10 138.19 L 378.34 142.56 L 378.59 137.88 L 378.65 140.15 L 378.71 139.89 L 378.77 138.50 L 378.96 139.05 L 379.02 141.79 L 379.21 138.71 L 379.39 140.11 L 379.51 138.04 L 379.58 139.60 L 379.64 138.88 L 379.95 140.32 L 380.25 138.05 L 380.38 139.95 L 380.44 137.76 L 380.50 137.81 L 380.69 137.30 L 380.75 138.19 L 380.81 137.84 L 380.93 138.92 L 381.24 138.17 L 381.30 138.13 L 381.37 138.55 L 381.55 138.79 L 381.67 139.32 L 381.80 138.96 L 381.98 139.38 L 382.04 140.29 L 382.11 139.22 L 382.17 139.76 L 382.23 139.02 L 382.41 138.78 L 382.54 141.53 L 382.60 140.98 L 382.66 140.41 L 382.97 141.88 L 383.09 141.79 L 383.77 138.18 L 383.83 138.24 L 383.96 138.62 L 384.20 138.74 L 384.27 138.44 L 384.33 139.99 L 384.39 139.74 L 384.57 139.55 L 384.82 141.96 L 385.01 142.46 L 385.19 141.85 L 385.25 142.03 L 385.44 142.17 L 385.50 139.51 L 385.56 140.67 L 385.62 140.50 L 385.68 140.92 L 385.87 139.96 L 385.93 140.24 L 385.99 139.68 L 386.05 138.02 L 386.12 139.54 L 386.43 137.85 L 386.49 138.95 L 386.55 138.17 L 386.73 139.07 L 386.80 140.26 L 386.86 140.10 L 387.23 136.65 L 387.29 138.26 L 387.35 137.13 L 387.41 136.99 L 387.66 138.03 L 387.78 136.18 L 387.84 136.82 L 388.09 136.68 L 388.15 136.50 L 388.21 137.76 L 388.28 136.70 L 388.46 136.00 L 388.52 134.25 L 388.65 137.18 L 388.71 136.31 L 388.89 136.58 L 388.95 136.49 L 389.14 135.85 L 389.33 135.26 L 389.39 137.20 L 389.45 135.61 L 389.51 137.98 L 389.57 134.70 L 389.76 134.35 L 389.82 135.83 L 389.88 134.65 L 389.94 135.45 L 390.00 135.13 L 390.19 134.68 L 390.31 135.40 L 390.37 134.91 L 390.44 135.58 L 390.62 136.01 L 390.74 137.90 L 390.87 134.53 L 391.11 136.88 L 391.24 135.74 L 391.30 138.24 L 391.48 137.90 L 391.73 134.71 L 391.92 135.83 L 391.98 135.52 L 392.04 137.69 L 392.10 136.66 L 392.16 136.24 L 392.35 138.33 L 392.53 135.31 L 392.60 135.68 L 392.90 139.41 L 392.97 138.22 L 393.03 139.64 L 393.27 140.72 L 393.34 140.36 L 393.40 140.39 L 393.46 140.66 L 393.64 140.86 L 393.71 140.77 L 393.77 140.02 L 393.83 141.05 L 393.89 140.74 L 394.14 140.00 L 394.20 138.99 L 394.26 139.04 L 394.32 139.60 L 394.57 138.46 L 394.76 140.44 L 394.94 138.93 L 395.00 139.33 L 395.06 139.67 L 395.13 138.76 L 395.19 139.75 L 395.43 138.25 L 395.62 136.62 L 395.80 134.93 L 395.87 135.13 L 395.99 138.46 L 396.05 137.98 L 396.24 137.57 L 396.36 138.58 L 396.42 138.53 L 396.73 133.33 L 396.91 136.82 L 397.10 137.25 L 397.22 135.24 L 397.28 135.73 L 397.35 134.58 L 397.53 135.16 L 397.59 133.89 L 397.66 135.09 L 397.72 134.10 L 397.78 134.84 L 397.96 134.73 L 398.03 134.18 L 398.15 136.03 L 398.21 135.33 L 398.40 135.28 L 398.46 134.70 L 398.58 136.45 L 398.64 135.47 L 398.83 134.68 L 398.89 135.53 L 399.01 133.57 L 399.07 133.34 L 399.26 133.22 L 399.32 134.89 L 399.38 132.33 L 399.44 134.37 L 399.69 133.28 L 399.81 133.64 L 399.88 134.72 L 399.94 134.63 L 400.12 134.04 L 400.19 132.50 L 400.31 133.95 L 400.37 133.03 L 400.56 132.86 L 400.68 133.86 L 400.74 133.49 L 400.80 134.89 L 401.23 131.11 L 401.42 131.22 L 401.60 129.79 L 401.67 130.15 L 401.85 130.18 L 401.91 130.34 L 402.04 129.55 L 402.10 129.88 L 402.28 130.55 L 402.34 128.93 L 402.41 129.32 L 402.53 130.65 L 402.71 131.13 L 402.78 130.99 L 402.90 130.71 L 402.96 130.79 L 403.15 129.84 L 403.21 131.11 L 403.27 128.66 L 403.33 130.05 L 403.39 129.79 L 403.58 128.46 L 403.64 126.48 L 403.70 126.52 L 403.83 129.38 L 404.01 126.67 L 404.07 128.29 L 404.20 126.48 L 404.50 122.07 L 404.57 125.63 L 404.63 123.35 L 404.69 122.21 L 405.00 123.53 L 405.37 118.36 L 405.49 121.01 L 405.55 119.11 L 405.74 122.45 L 405.80 122.14 L 405.92 116.76 L 405.99 119.30 L 406.17 118.98 L 406.29 120.25 L 406.42 119.12 L 406.60 119.65 L 406.79 117.92 L 407.03 119.66 L 407.16 117.16 L 407.22 118.60 L 407.28 116.51 L 407.47 116.62 L 407.65 117.89 L 407.71 118.56 L 407.96 115.65 L 408.08 117.05 L 408.14 117.06 L 408.33 115.70 L 408.39 114.29 L 408.45 116.29 L 408.51 115.76 L 408.58 115.89 L 408.76 115.09 L 408.82 114.15 L 408.95 116.67 L 409.01 115.69 L 409.26 114.69 L 409.32 115.13 L 409.75 117.22 L 409.81 116.42 L 409.87 117.67 L 410.06 116.34 L 410.12 117.64 L 410.18 121.49 L 410.24 119.19 L 410.30 121.69 L 410.49 120.82 L 410.61 118.01 L 410.67 118.41 L 410.74 121.15 L 410.92 121.77 L 411.04 119.08 L 411.11 120.97 L 411.17 119.49 L 411.35 120.02 L 411.48 120.86 L 411.54 119.62 L 411.60 121.36 L 411.79 121.22 L 411.91 120.77 L 412.03 120.74 L 412.22 120.69 L 412.46 117.59 L 412.65 117.35 L 412.71 117.41 L 412.83 116.18 L 412.90 116.79 L 413.08 116.23 L 413.14 115.44 L 413.20 116.11 L 413.27 114.96 L 413.33 115.84 L 413.51 116.53 L 413.64 115.47 L 413.76 112.60 L 413.94 115.77 L 414.01 114.55 L 414.07 115.02 L 414.50 112.90 L 414.56 111.91 L 414.62 112.91 L 414.93 110.87 L 415.06 109.71 L 415.36 108.92 L 415.43 109.12 L 415.49 108.51 L 415.67 109.09 L 415.73 109.06 L 415.80 108.42 L 415.86 111.06 L 415.92 109.66 L 416.10 107.87 L 416.23 109.90 L 416.29 107.52 L 416.35 108.99 L 416.54 108.21 L 416.60 112.52 L 416.66 111.01 L 416.72 111.34 L 416.78 110.44 L 416.97 109.50 L 417.15 115.07 L 417.22 111.89 L 417.40 110.49 L 417.52 112.68 L 417.59 112.15 L 417.65 111.22 L 417.83 111.77 L 417.89 110.18 L 418.02 115.04 L 418.08 113.57 L 418.26 112.86 L 418.45 114.86 L 418.51 115.30 L 418.82 115.30 L 419.19 112.76 L 419.37 115.46 L 419.56 115.09 L 419.68 108.43 L 419.81 112.12 L 419.99 109.75 L 420.05 110.98 L 420.12 109.61 L 420.18 110.07 L 420.24 110.04 L 420.42 107.97 L 420.49 108.42 L 420.55 109.04 L 420.67 107.49 L 420.86 106.76 L 420.98 107.98 L 421.47 116.18 L 421.72 117.75 L 421.78 117.09 L 421.84 117.37 L 421.90 116.97 L 422.21 118.68 L 422.27 118.51 L 422.34 116.61 L 422.40 117.76 L 422.58 116.96 L 422.71 114.66 L 422.83 114.27 L 423.02 112.93 L 423.14 115.71 L 423.26 113.34 L 423.45 113.23 L 423.51 113.79 L 423.57 113.47 L 423.63 113.56 L 423.69 112.86 L 423.88 113.35 L 423.94 113.22 L 424.06 112.61 L 424.13 114.38 L 424.31 114.15 L 424.43 114.58 L 424.50 113.37 L 424.56 114.07 L 424.80 115.27 L 424.93 114.88 L 425.17 115.69 L 425.67 111.41 L 425.73 114.15 L 425.79 113.73 L 425.85 111.62 L 426.04 112.18 L 426.10 112.02 L 426.16 111.64 L 426.22 111.75 L 426.29 111.68 L 426.47 112.69 L 426.53 112.10 L 426.59 112.51 L 426.66 112.71 L 426.72 114.89 L 426.96 112.00 L 427.03 113.65 L 427.09 111.80 L 427.15 115.78 L 427.33 114.51 L 427.40 116.06 L 427.46 111.23 L 427.58 116.29 L 427.77 115.96 L 427.89 113.14 L 427.95 113.44 L 428.01 114.36 L 428.20 111.82 L 428.26 114.45 L 428.32 114.12 L 428.38 112.27 L 428.45 115.30 L 428.63 115.92 L 428.69 113.79 L 428.82 113.89 L 428.88 116.11 L 429.06 115.32 L 429.12 112.72 L 429.31 115.64 L 429.49 118.22 L 429.56 116.34 L 429.62 116.76 L 429.68 116.94 L 429.74 118.91 L 430.17 122.27 L 430.36 122.27 L 430.54 123.69 L 430.85 124.36 L 430.91 123.47 L 430.98 123.85 L 431.04 124.36 L 431.22 122.03 L 431.28 124.56 L 431.35 122.70 L 431.41 122.83 L 431.47 124.63 L 431.72 123.66 L 431.84 122.77 L 431.90 123.11 L 432.09 123.37 L 432.27 124.46 L 432.33 124.24 L 432.52 124.65 L 432.64 123.54 L 432.76 124.26 L 432.95 124.96 L 433.01 124.92 L 433.13 124.98 L 433.38 123.39 L 433.50 125.34 L 433.63 122.73 L 433.81 123.74 L 433.88 121.66 L 433.94 122.44 L 434.00 122.82 L 434.06 122.33 L 434.31 124.75 L 434.49 122.75 L 434.68 122.10 L 434.74 124.86 L 434.80 123.73 L 434.86 121.73 L 434.92 124.31 L 435.11 122.68 L 435.23 124.03 L 435.36 119.95 L 435.60 120.76 L 435.73 120.06 L 435.79 120.19 L 436.03 122.56 L 436.41 127.07 L 436.47 126.77 L 436.65 129.63 L 436.84 130.08 L 436.90 129.70 L 437.70 138.23 L 437.76 138.67 L 437.82 138.38 L 437.89 138.22 L 438.26 135.90 L 438.32 136.04 L 438.38 137.38 L 438.69 135.31 L 438.75 135.42 L 438.81 136.10 L 439.00 136.52 L 439.18 133.32 L 439.24 133.67 L 439.43 131.81 L 439.55 132.88 L 439.61 132.54 L 439.68 132.80 L 439.92 132.39 L 440.29 133.48 L 440.35 133.00 L 440.54 135.96 L 440.72 134.77 L 440.79 135.48 L 440.85 134.72 L 440.91 136.31 L 440.97 135.34 L 441.28 137.43 L 441.34 136.66 L 441.40 137.44 L 441.71 138.35 L 441.77 137.81 L 441.83 138.21 L 442.02 138.62 L 442.27 137.57 L 442.45 136.52 L 442.70 132.58 L 442.88 132.72 L 442.95 133.82 L 443.13 129.70 L 443.32 129.87 L 443.38 129.10 L 443.44 130.05 L 443.50 129.66 L 443.56 129.53 L 443.75 128.25 L 443.81 126.70 L 443.87 126.79 L 443.93 130.44 L 443.99 128.53 L 444.18 127.62 L 444.24 126.43 L 444.30 126.70 L 444.43 128.06 L 444.61 127.52 L 444.67 127.71 L 444.74 125.58 L 444.80 125.72 L 444.86 126.18 L 445.11 125.43 L 445.23 126.01 L 445.48 126.99 L 445.66 128.64 L 445.72 127.99 L 445.91 128.36 L 445.97 128.16 L 446.15 130.30 L 446.52 131.18 L 446.77 130.29 L 446.96 131.79 L 447.02 131.16 L 447.20 131.85 L 447.26 131.69 L 447.33 131.82 L 447.39 132.42 L 447.45 127.96 L 447.64 127.27 L 447.70 130.19 L 447.76 128.36 L 447.82 128.45 L 447.88 129.33 L 448.25 125.65 L 448.31 125.77 L 448.50 126.41 L 448.56 126.25 L 448.62 126.30 L 448.75 126.89 L 448.93 126.31 L 449.05 130.11 L 449.12 127.18 L 449.18 127.71 L 449.36 127.70 L 449.55 131.03 L 449.61 130.96 L 449.92 133.23 L 449.98 132.92 L 450.23 134.56 L 450.41 136.46 L 450.66 136.94 L 450.78 135.89 L 450.84 135.98 L 450.91 135.92 L 451.09 135.89 L 451.21 133.59 L 451.34 133.69 L 451.58 132.20 L 451.77 134.73 L 452.08 131.57 L 452.39 132.52 L 452.51 131.59 L 452.57 131.76 L 452.82 132.31 L 452.88 131.65 L 452.94 132.11 L 453.07 133.31 L 453.25 133.37 L 453.31 133.09 L 453.44 130.31 L 453.50 130.94 L 453.74 133.36 L 453.81 134.64 L 453.87 133.75 L 453.93 132.79 L 454.11 133.81 L 454.36 137.35 L 455.10 143.43 L 455.16 143.40 L 455.22 143.56 L 455.41 142.86 L 455.84 144.59 L 455.90 144.66 L 456.03 142.65 L 456.09 144.28 L 456.27 143.29 L 456.34 143.46 L 456.40 141.80 L 456.46 142.49 L 456.52 142.34 L 456.71 140.20 L 456.77 141.80 L 456.83 141.33 L 456.89 141.95 L 457.26 137.07 L 457.38 137.20 L 457.57 135.36 L 457.63 135.59 L 457.75 136.61 L 457.82 135.32 L 458.00 134.20 L 458.19 136.42 L 458.43 134.36 L 458.49 134.54 L 458.56 134.01 L 458.68 133.94 L 458.87 134.07 L 458.99 135.08 L 459.05 134.74 L 459.11 134.14 L 459.30 135.02 L 459.36 134.65 L 459.42 135.26 L 459.48 135.24 L 459.54 134.66 L 459.79 135.34 L 460.16 133.68 L 460.22 135.83 L 460.35 131.72 L 460.41 132.25 L 460.59 134.14 L 460.72 129.79 L 460.78 130.74 L 460.84 131.95 L 461.21 130.19 L 461.27 130.39 L 461.46 131.87 L 461.52 131.77 L 461.58 131.76 L 461.64 130.41 L 461.89 133.83 L 462.01 132.78 L 462.07 134.70 L 462.14 132.76 L 462.32 133.66 L 462.38 133.48 L 462.57 134.17 L 462.88 132.50 L 463.00 131.09 L 463.37 128.24 L 463.43 128.69 L 463.62 128.96 L 463.68 127.65 L 463.86 127.64 L 464.23 129.24 L 464.30 129.00 L 464.48 129.01 L 464.73 127.99 L 465.10 125.54 L 465.34 126.00 L 465.53 124.84 L 465.59 125.06 L 466.02 128.92 L 466.27 129.62 L 466.45 130.68 L 466.64 131.34 L 466.89 129.85 L 467.32 126.02 L 467.69 131.63 L 467.75 130.22 L 468.37 150.25 L 468.43 151.53 L 468.61 159.11 L 468.98 168.42 L 469.23 165.73 L 469.29 166.76 L 469.35 166.31 L 469.42 166.90 L 469.48 164.52 L 469.66 164.36 L 469.79 162.00 L 469.85 161.83 L 469.91 159.65 L 470.10 158.77 L 470.16 159.01 L 470.22 156.10 L 470.28 156.19 L 470.34 157.89 L 470.53 152.86 L 470.59 154.84 L 470.96 145.12 L 471.08 144.51 L 471.14 145.48 L 471.21 142.94 L 471.45 144.42 L 471.51 141.64 L 471.58 143.53 L 471.64 145.19 L 472.01 142.49 L 472.07 139.68 L 472.25 141.73 L 472.44 139.11 L 472.50 140.70 L 472.75 141.24 L 472.93 137.99 L 473.12 140.59 L 473.30 136.01 L 473.37 136.09 L 473.80 129.18 L 474.48 135.80 L 474.66 135.22 L 474.85 132.64 L 474.91 133.19 L 474.97 133.27 L 475.03 132.71 L 475.09 130.99 L 475.28 132.66 L 475.40 128.52 L 475.46 128.05 L 475.53 128.57 L 475.71 125.86 L 475.77 128.13 L 475.83 127.24 L 475.90 127.80 L 475.96 129.72 L 476.14 128.71 L 476.20 127.25 L 476.27 127.98 L 476.33 128.34 L 476.39 127.92 L 476.64 129.21 L 476.82 124.53 L 477.13 119.67 L 477.25 119.87 L 477.44 119.38 L 477.68 116.26 L 477.87 115.99 L 478.12 119.21 L 478.30 120.01 L 478.55 123.08 L 478.73 122.96 L 478.92 120.95 L 478.98 121.92 L 479.17 120.34 L 479.23 116.94 L 479.29 118.16 L 479.35 117.93 L 479.41 116.21 L 479.60 116.39 L 479.78 115.58 L 479.84 115.03 L 480.03 115.53 L 480.52 122.17 L 480.71 123.52 L 480.89 123.35 L 481.08 120.08 L 481.14 121.31 L 481.33 118.47 L 481.39 119.29 L 481.57 117.39 L 481.76 116.60 L 482.25 120.95 L 482.37 119.43 L 482.62 122.84 L 482.68 122.61 L 482.87 123.85 L 483.05 122.51 L 483.30 118.53 L 483.67 110.52 L 483.73 110.98 L 484.04 108.01 L 484.10 109.37 L 484.16 106.48 L 484.35 103.80 L 484.53 105.99 L 484.60 104.20 L 484.78 103.14 L 484.97 99.53 L 485.03 99.93 L 485.40 97.26 L 485.46 97.55 L 485.64 97.39 L 485.83 100.00 L 485.89 99.76 L 486.08 99.74 L 486.26 97.78 L 486.51 96.83 L 487.00 83.68 L 487.06 86.48 L 487.13 84.25 L 487.37 76.80 L 487.43 76.64 L 487.50 77.22 L 487.62 74.30 L 487.80 77.23 L 487.87 75.38 L 487.99 78.08 L 488.05 76.22 L 488.36 72.80 L 488.42 72.96 L 488.48 73.53 L 488.91 84.09 L 489.22 81.89 L 489.53 75.86 L 489.66 75.14 L 489.72 75.52 L 490.03 77.99 L 490.15 81.04 L 490.21 80.48 L 490.64 85.05 L 490.83 85.71 L 490.95 84.18 L 491.07 85.94 L 491.26 84.62 L 491.32 85.34 L 491.38 87.69 L 491.51 82.33 L 491.69 80.74 L 491.75 81.41 L 491.81 80.06 L 491.88 80.46 L 491.94 80.40 L 492.12 76.31 L 492.19 79.40 L 492.25 77.64 L 492.31 79.79 L 492.37 75.64 L 492.56 75.31 L 492.68 78.20 L 492.80 71.84 L 492.99 71.75 L 493.11 76.43 L 493.17 69.45 L 493.23 71.94 L 493.42 74.00 L 493.60 69.03 L 493.67 70.98 L 493.85 72.28 L 493.91 70.63 L 493.97 72.27 L 494.04 71.03 L 494.10 70.84 L 494.28 69.90 L 494.34 71.20 L 494.47 71.23 L 494.53 70.72 L 494.72 70.89 L 494.96 76.00 L 495.15 76.83 L 495.27 75.82 L 495.39 75.94 L 495.58 75.04 L 495.76 72.07 L 495.83 74.43 L 496.01 71.89 L 496.07 72.12 L 496.13 72.96 L 496.26 69.94 L 496.44 70.96 L 496.50 72.23 L 496.57 70.08 L 496.63 71.65 L 496.69 69.98 L 496.87 70.96 L 496.94 69.77 L 497.00 70.69 L 497.31 67.56 L 497.37 67.79 L 497.43 68.46 L 497.49 70.83 L 497.55 68.56 L 497.74 67.56 L 497.86 68.91 L 497.92 67.72 L 497.99 68.07 L 498.23 67.56 L 498.66 67.56 L 498.73 67.88 L 498.79 69.27 L 498.85 67.56 L 499.16 69.99 L 499.28 69.99 L 499.47 69.99 L 499.59 68.91 L 499.65 70.66 L 499.71 69.83 L 499.96 70.38 L 500.08 69.30 L 500.14 69.37 L 500.33 69.19 L 500.39 68.81 L 500.52 70.23 L 500.95 77.68 L 501.19 80.36 L 501.26 79.98 L 501.32 79.73 L 501.87 73.51 L 502.06 74.47 L 502.12 75.55 L 502.18 74.92 L 502.24 74.87 L 502.30 76.75 L 502.67 78.31 L 502.74 78.28 L 502.92 77.63 L 502.98 78.41 L 503.05 77.63 L 503.11 77.91 L 503.17 78.55 L 503.35 78.31 L 503.42 77.24 L 503.48 77.62 L 503.54 77.18 L 503.60 77.38 L 503.97 87.16 L 504.03 89.04 L 504.28 87.47 L 504.40 87.92 L 504.46 87.49 L 504.90 82.95 L 505.14 82.04 L 505.20 82.13 L 505.27 82.10 L 505.33 82.30 L 505.64 83.83 L 505.76 79.93 L 506.13 85.21 L 506.19 82.08 L 506.38 82.97 L 506.44 83.86 L 506.56 81.43 L 506.62 83.34 L 506.81 84.69 L 506.99 89.49 L 507.06 90.60 L 507.30 91.22 L 507.43 92.62 L 507.73 89.20 L 507.80 89.23 L 507.86 87.81 L 507.92 88.07 L 508.29 83.30 L 508.35 82.82 L 508.54 82.73 L 508.72 85.39 L 508.78 84.56 L 508.97 84.11 L 509.03 82.22 L 509.15 85.79 L 509.46 82.04 L 509.65 88.01 L 509.83 87.53 L 509.89 85.49 L 509.96 85.74 L 510.26 95.27 L 510.33 95.25 L 510.39 96.93 L 510.45 96.87 L 510.51 97.06 L 510.94 105.04 L 511.81 97.28 L 512.05 98.79 L 512.12 98.58 L 512.18 98.67 L 512.49 101.86 L 512.55 96.88 L 512.61 100.04 L 512.86 102.00 L 512.98 103.69 L 513.04 103.06 L 513.10 103.62 L 513.29 104.24 L 513.47 103.25 L 513.53 103.82 L 513.72 102.86 L 513.78 101.50 L 513.84 102.13 L 513.90 103.34 L 513.97 102.86 L 514.15 100.14 L 514.28 102.22 L 514.40 99.18 L 514.83 97.34 L 515.02 97.95 L 515.08 97.68 L 515.14 98.73 L 515.20 97.31 L 515.26 98.25 L 515.45 98.04 L 515.51 98.21 L 515.57 99.62 L 515.63 97.91 L 515.69 98.63 L 515.88 96.95 L 516.00 99.08 L 516.06 96.75 L 516.13 97.41 L 516.37 101.47 L 516.43 98.79 L 516.50 98.79 L 516.56 98.88 L 516.87 104.14 L 516.99 102.93 L 517.42 107.20 L 517.61 107.96 L 517.67 107.81 L 517.79 105.86 L 517.85 107.58 L 518.04 107.26 L 518.22 105.10 L 518.29 104.91 L 518.66 101.85 L 518.72 101.95 L 519.09 106.69 L 519.15 106.25 L 519.40 112.13 L 519.46 111.59 L 519.52 112.69 L 519.58 116.73 L 519.77 116.85 L 519.83 117.78 L 519.89 115.33 L 520.01 117.66 L 520.32 121.92 L 520.38 121.71 L 520.45 121.58 L 520.63 122.53 L 520.82 120.77 L 520.88 121.36 L 521.06 120.88 L 521.31 117.71 L 521.49 118.20 L 521.68 116.23 L 521.74 116.49 L 521.93 116.21 L 521.99 115.83 L 522.11 112.14 L 522.17 115.26 L 522.36 115.20 L 522.79 109.94 L 522.85 112.42 L 522.91 111.34 L 523.04 110.95 L 523.28 111.53 L 523.35 111.38 L 523.41 111.72 L 523.47 111.04 L 523.65 111.43 L 523.72 113.21 L 523.84 110.13 L 523.90 110.46 L 524.33 117.16 L 524.52 116.21 L 524.58 118.44 L 524.64 116.34 L 524.70 118.15 L 524.76 117.17 L 524.95 118.16 L 525.07 119.97 L 525.13 119.83 L 525.20 117.65 L 525.44 121.15 L 525.51 120.99 L 525.63 125.35 L 525.81 127.24 L 525.88 125.84 L 526.06 128.08 L 526.31 129.33 L 526.37 128.99 L 526.49 129.94 L 526.68 129.79 L 527.17 126.03 L 527.23 126.33 L 527.36 126.54 L 527.54 122.90 L 527.60 123.86 L 527.79 121.47 L 527.97 120.81 L 528.04 122.03 L 528.10 118.04 L 528.16 119.88 L 528.22 118.36 L 528.41 118.52 L 528.59 114.69 L 528.84 115.98 L 528.90 113.91 L 528.96 115.18 L 529.08 113.54 L 529.27 113.14 L 529.33 113.20 L 529.76 115.76 L 529.82 114.96 L 529.95 117.25 L 530.13 117.58 L 530.19 116.98 L 530.26 117.39 L 530.32 118.08 L 530.38 117.89 L 530.56 117.12 L 530.63 117.60 L 530.69 117.18 L 530.75 118.01 L 530.81 117.79 L 531.00 117.25 L 531.12 118.23 L 531.92 126.59 L 532.48 121.76 L 532.72 118.21 L 532.79 119.99 L 532.91 116.81 L 532.97 117.02 L 533.16 115.95 L 533.22 116.09 L 533.28 116.05 L 533.40 113.89 L 533.59 113.94 L 533.84 112.95 L 534.02 113.05 L 534.08 112.49 L 534.21 114.41 L 534.27 114.26 L 534.45 114.00 L 534.51 115.32 L 534.58 113.69 L 534.64 113.94 L 534.70 115.66 L 534.88 114.75 L 535.32 117.94 L 535.38 116.85 L 535.50 116.88 L 535.56 116.44 L 535.75 118.20 L 535.87 117.02 L 535.93 118.94 L 535.99 118.46 L 536.18 118.04 L 536.37 119.65 L 536.43 119.84 L 536.74 118.04 L 536.80 118.22 L 536.86 117.10 L 537.17 116.10 L 537.23 113.55 L 537.29 114.28 L 537.48 113.30 L 537.54 111.69 L 537.60 112.62 L 537.66 111.45 L 537.72 113.16 L 537.91 110.84 L 537.97 113.34 L 538.15 110.75 L 538.52 107.65 L 538.59 107.52 L 538.83 108.58 L 538.89 107.74 L 538.96 108.07 L 539.02 109.73 L 539.33 111.58 L 539.39 110.69 L 539.64 112.14 L 539.70 111.94 L 539.82 111.89 L 539.88 110.94 L 540.19 113.01 L 540.25 111.81 L 540.31 107.22 L 540.50 108.98 L 540.62 105.98 L 540.75 108.78 L 540.99 106.16 L 541.05 108.43 L 541.12 108.14 L 541.18 104.86 L 541.36 106.00 L 541.55 104.40 L 541.61 104.72 L 541.79 104.08 L 541.86 104.19 L 541.98 104.65 L 542.04 105.37 L 542.23 105.76 L 542.29 105.47 L 542.35 104.41 L 542.47 106.09 L 542.66 103.45 L 542.84 106.44 L 542.91 106.23 L 543.28 109.23 L 543.34 109.09 L 543.65 109.98 L 544.02 106.51 L 544.08 108.68 L 544.20 106.00 L 544.39 106.38 L 544.45 106.82 L 544.51 105.49 L 544.57 106.72 L 544.63 103.95 L 544.82 103.90 L 545.00 103.13 L 545.07 103.14 L 545.25 104.38 L 545.31 103.71 L 545.50 104.40 L 545.68 104.74 L 545.81 105.50 L 545.87 104.85 L 545.93 107.13 L 546.11 109.11 L 546.18 108.69 L 546.24 108.94 L 546.30 108.74 L 546.36 107.84 L 546.61 109.47 L 546.79 110.65 L 547.16 109.07 L 547.22 109.31 L 547.41 108.49 L 547.66 106.63 L 547.84 107.84 L 547.90 107.54 L 547.97 107.31 L 548.09 109.77 L 548.27 109.64 L 548.34 110.35 L 548.40 112.84 L 548.46 110.95 L 548.52 111.78 L 548.71 112.70 L 548.83 112.18 L 548.95 115.12 L 549.20 114.00 L 549.26 114.90 L 549.32 114.20 L 549.38 114.95 L 549.57 115.12 L 549.69 117.55 L 549.75 116.48 L 549.82 118.46 L 550.00 120.01 L 550.06 119.52 L 550.19 121.11 L 550.25 122.23 L 550.43 121.03 L 550.68 122.86 L 550.87 122.63 L 551.30 118.51 L 551.36 119.10 L 551.54 114.79 L 551.85 114.62 L 551.91 112.30 L 551.98 114.00 L 552.22 114.48 L 552.35 112.11 L 552.41 113.22 L 552.59 111.86 L 552.65 110.21 L 552.72 110.53 L 552.78 110.92 L 552.84 112.59 L 553.09 109.52 L 553.27 113.68 L 553.64 106.96 L 553.70 109.23 L 553.95 106.25 L 554.01 106.73 L 554.07 107.60 L 554.14 104.87 L 554.38 104.03 L 554.44 104.41 L 554.57 103.62 L 554.75 103.18 L 555.43 114.42 L 555.68 113.16 L 555.86 111.39 L 556.05 109.30 L 556.11 109.42 L 556.17 109.96 L 556.30 108.11 L 556.48 106.33 L 556.60 107.09 L 556.67 106.94 L 556.73 108.38 L 556.91 105.89 L 556.97 106.38 L 557.04 106.51 L 557.10 105.92 L 557.16 102.57 L 557.34 104.24 L 557.41 102.03 L 557.47 105.51 L 557.53 104.35 L 557.59 101.06 L 557.84 101.92 L 557.96 105.12 L 558.33 100.34 L 558.39 98.97 L 558.45 100.91 L 558.64 100.62 L 558.70 103.74 L 558.76 102.38 L 559.07 97.22 L 559.13 97.07 L 559.26 98.60 L 559.32 98.52 L 559.63 97.11 L 559.75 98.10 L 559.94 99.36 L 560.00 96.47 L 560.06 96.52 L 560.18 99.10 L 560.37 98.59 L 560.37 98.59 " clip-path="url(#p7fc77e7408)" style="fill: none; stroke: #1f77b4; stroke-width: 1.650; stroke-linecap: square"/> </g> <g id="patch_3"> <path d="M 81.47 216.37 L 81.47 60.85" style="fill: none; stroke: #000000; stroke-width: 0.72; stroke-linejoin: miter; stroke-linecap: square"/> </g> <g id="patch_4"> <path d="M 583.31 216.37 L 583.31 60.85" style="fill: none; stroke: #000000; stroke-width: 0.72; stroke-linejoin: miter; stroke-linecap: square"/> </g> <g id="patch_5"> <path d="M 81.47 216.37 L 583.31 216.37" style="fill: none; stroke: #000000; stroke-width: 0.72; stroke-linejoin: miter; stroke-linecap: square"/> </g> <g id="patch_6"> <path d="M 81.47 60.85 L 583.31 60.85" style="fill: none; stroke: #000000; stroke-width: 0.72; stroke-linejoin: miter; stroke-linecap: square"/> </g> <g id="text_13"> <!-- KOSPI MDD --> <text x="332.10" y="54.4800" text-anchor="middle" font-size="12" fill="#000000" font-family="'Liberation Sans', sans-serif">KOSPI MDD</text> </g> <g id="legend_1"> <g transform="matrix(0.993746 0 0 1.018208 3.6861 -0.7727)" id="patch_7"> <path d="M 514.99 83.15 L 576.2 83.15 Q 578.2 83.15 578.2 81.15 L 578.2 67.48 Q 578.2 65.48 576.2 65.48 L 514.99 65.48 Q 512.99 65.48 512.99 67.48 L 512.99 81.15 Q 512.99 83.15 514.99 83.15 z " style="fill: #ffffff; opacity: 0.8; stroke: #cccccc; stroke-linejoin: miter"/> </g><g transform="translate(0.0000 0.6840)"> <g id="line2d_24"> <path d="M 516.99 73.57 L 526.99 73.57 L 536.99 73.57 " style="fill: none; stroke: #1f77b4; stroke-width: 1.5; stroke-linecap: square"/> </g> <g id="text_14"> <!-- KOSPI --> <text x="544.9922" y="77.0784" text-anchor="start" font-size="10" fill="#000000" font-family="'Liberation Sans', sans-serif">KOSPI</text> </g> </g></g> </g> <g id="axes_2"> <g id="patch_8"> <path d="M 81 403.2 L 583.2 403.2 L 583.2 247.41 L 81 247.41 z " style="fill: #ffffff"/> </g> <g id="matplotlib.axis_3"> <g id="xtick_7"> <g id="line2d_25"> <path d="M 103.79 403.57 L 103.79 248.05" clip-path="url(#p6d332bae23)" style="fill: none; stroke: #b0b0b0; stroke-width: 0.72; stroke-linecap: square"/> </g> <g id="line2d_26"> <g> <use href="#m1504cfccaf" x="103.7900" y="403.9395" style="stroke: #000000; stroke-width: 0.72"/> </g> </g> <g id="text_15"> <!-- 2004 --> <text transform="translate(80.5003 429.9374) rotate(-30)" x="25.45" y="0" text-anchor="end" font-size="10" fill="#000000" font-family="'Liberation Sans', sans-serif">2004</text> </g> </g> <g id="xtick_8"> <g id="line2d_27"> <path d="M 193.79 403.57 L 193.79 248.05" clip-path="url(#p6d332bae23)" style="fill: none; stroke: #b0b0b0; stroke-width: 0.72; stroke-linecap: square"/> </g> <g id="line2d_28"> <g> <use href="#m1504cfccaf" x="193.7900" y="403.9395" style="stroke: #000000; stroke-width: 0.72"/> </g> </g> <g id="text_16"> <!-- 2008 --> <text transform="translate(170.6493 429.9374) rotate(-30)" x="25.45" y="0" text-anchor="end" font-size="10" fill="#000000" font-family="'Liberation Sans', sans-serif">2008</text> </g> </g> <g id="xtick_9"> <g id="line2d_29"> <path d="M 284.51 403.57 L 284.51 248.05" clip-path="url(#p6d332bae23)" style="fill: none; stroke: #b0b0b0; stroke-width: 0.72; stroke-linecap: square"/> </g> <g id="line2d_30"> <g> <use href="#m1504cfccaf" x="284.5100" y="403.9395" style="stroke: #000000; stroke-width: 0.72"/> </g> </g> <g id="text_17"> <!-- 2012 --> <text transform="translate(260.7984 429.9374) rotate(-30)" x="25.45" y="0" text-anchor="end" font-size="10" fill="#000000" font-family="'Liberation Sans', sans-serif">2012</text> </g> </g> <g id="xtick_10"> <g id="line2d_31"> <path d="M 374.51 403.57 L 374.51 248.05" clip-path="url(#p6d332bae23)" style="fill: none; stroke: #b0b0b0; stroke-width: 0.72; stroke-linecap: square"/> </g> <g id="line2d_32"> <g> <use href="#m1504cfccaf" x="374.5100" y="403.9395" style="stroke: #000000; stroke-width: 0.72"/> </g> </g> <g id="text_18"> <!-- 2016 --> <text transform="translate(350.9475 429.9374) rotate(-30)" x="25.45" y="0" text-anchor="end" font-size="10" fill="#000000" font-family="'Liberation Sans', sans-serif">2016</text> </g> </g> <g id="xtick_11"> <g id="line2d_33"> <path d="M 464.51 403.57 L 464.51 248.05" clip-path="url(#p6d332bae23)" style="fill: none; stroke: #b0b0b0; stroke-width: 0.72; stroke-linecap: square"/> </g> <g id="line2d_34"> <g> <use href="#m1504cfccaf" x="464.5100" y="403.9395" style="stroke: #000000; stroke-width: 0.72"/> </g> </g> <g id="text_19"> <!-- 2020 --> <text transform="translate(441.0965 429.9374) rotate(-30)" x="25.45" y="0" text-anchor="end" font-size="10" fill="#000000" font-family="'Liberation Sans', sans-serif">2020</text> </g> </g> <g id="xtick_12"> <g id="line2d_35"> <path d="M 554.51 403.57 L 554.51 248.05" clip-path="url(#p6d332bae23)" style="fill: none; stroke: #b0b0b0; stroke-width: 0.72; stroke-linecap: square"/> </g> <g id="line2d_36"> <g> <use href="#m1504cfccaf" x="554.5100" y="403.9395" style="stroke: #000000; stroke-width: 0.72"/> </g> </g> <g id="text_20"> <!-- 2024 --> <text transform="translate(531.2456 429.9374) rotate(-30)" x="25.45" y="0" text-anchor="end" font-size="10" fill="#000000" font-family="'Liberation Sans', sans-serif">2024</text> </g> </g> <g id="text_21"> <!-- Date --> <text x="332.10" y="443.5529" text-anchor="middle" font-size="10" fill="#000000" font-family="'Liberation Sans', sans-serif">Date</text> </g> </g> <g id="matplotlib.axis_4"> <g id="ytick_6"> <g id="line2d_37"> <path d="M 81.47 384.85 L 583.31 384.85" clip-path="url(#p6d332bae23)" style="fill: none; stroke: #b0b0b0; stroke-width: 0.72; stroke-linecap: square"/> </g> <g id="line2d_38"> <g> <use href="#m5d545ce8f8" x="81.1100" y="384.8595" style="stroke: #000000; stroke-width: 0.72"/> </g> </g> <g id="text_22"> <!-- −0.5 --> <text x="74.00" y="388.4896" text-anchor="end" font-size="10" fill="#000000" font-family="'Liberation Sans', sans-serif">−0.5</text> </g> </g> <g id="ytick_7"> <g id="line2d_39"> <path d="M 81.47 358.93 L 583.31 358.93" clip-path="url(#p6d332bae23)" style="fill: none; stroke: #b0b0b0; stroke-width: 0.72; stroke-linecap: square"/> </g> <g id="line2d_40"> <g> <use href="#m5d545ce8f8" x="81.1100" y="358.9395" style="stroke: #000000; stroke-width: 0.72"/> </g> </g> <g id="text_23"> <!-- −0.4 --> <text x="74.00" y="362.5233" text-anchor="end" font-size="10" fill="#000000" font-family="'Liberation Sans', sans-serif">−0.4</text> </g> </g> <g id="ytick_8"> <g id="line2d_41"> <path d="M 81.47 333.01 L 583.31 333.01" clip-path="url(#p6d332bae23)" style="fill: none; stroke: #b0b0b0; stroke-width: 0.72; stroke-linecap: square"/> </g> <g id="line2d_42"> <g> <use href="#m5d545ce8f8" x="81.1100" y="333.0195" style="stroke: #000000; stroke-width: 0.72"/> </g> </g> <g id="text_24"> <!-- −0.3 --> <text x="74.00" y="336.5571" text-anchor="end" font-size="10" fill="#000000" font-family="'Liberation Sans', sans-serif">−0.3</text> </g> </g> <g id="ytick_9"> <g id="line2d_43"> <path d="M 81.47 307.09 L 583.31 307.09" clip-path="url(#p6d332bae23)" style="fill: none; stroke: #b0b0b0; stroke-width: 0.72; stroke-linecap: square"/> </g> <g id="line2d_44"> <g> <use href="#m5d545ce8f8" x="81.1100" y="307.0995" style="stroke: #000000; stroke-width: 0.72"/> </g> </g> <g id="text_25"> <!-- −0.2 --> <text x="74.00" y="310.5909" text-anchor="end" font-size="10" fill="#000000" font-family="'Liberation Sans', sans-serif">−0.2</text> </g> </g> <g id="ytick_10"> <g id="line2d_45"> <path d="M 81.47 281.17 L 583.31 281.17" clip-path="url(#p6d332bae23)" style="fill: none; stroke: #b0b0b0; stroke-width: 0.72; stroke-linecap: square"/> </g> <g id="line2d_46"> <g> <use href="#m5d545ce8f8" x="81.1100" y="281.1795" style="stroke: #000000; stroke-width: 0.72"/> </g> </g> <g id="text_26"> <!-- −0.1 --> <text x="74.00" y="284.6246" text-anchor="end" font-size="10" fill="#000000" font-family="'Liberation Sans', sans-serif">−0.1</text> </g> </g> <g id="ytick_11"> <g id="line2d_47"> <path d="M 81.47 254.53 L 583.31 254.53" clip-path="url(#p6d332bae23)" style="fill: none; stroke: #b0b0b0; stroke-width: 0.72; stroke-linecap: square"/> </g> <g id="line2d_48"> <g> <use href="#m5d545ce8f8" x="81.1100" y="254.5395" style="stroke: #000000; stroke-width: 0.72"/> </g> </g> <g id="text_27"> <!-- 0.0 --> <text x="74.00" y="258.6584" text-anchor="end" font-size="10" fill="#000000" font-family="'Liberation Sans', sans-serif">0.0</text> </g> </g> </g> <g id="line2d_49"> <path d="M 103.82 254.61 L 103.88 254.49 L 104.07 255.50 L 104.32 256.46 L 104.38 254.76 L 104.44 255.29 L 104.50 255.03 L 104.81 257.75 L 104.87 257.46 L 104.93 256.40 L 105.12 259.69 L 105.24 264.60 L 105.55 256.76 L 105.61 257.91 L 105.80 261.54 L 106.11 255.91 L 106.41 262.75 L 106.66 255.49 L 106.97 261.66 L 107.09 258.95 L 107.34 256.94 L 107.52 260.98 L 107.83 256.30 L 108.14 268.63 L 108.39 255.68 L 108.70 265.99 L 109.01 256.68 L 109.25 269.08 L 109.56 255.90 L 109.62 257.73 L 109.68 261.34 L 109.87 265.01 L 110.12 255.95 L 110.36 254.49 L 110.42 255.17 L 110.55 258.91 L 110.86 255.32 L 111.17 262.05 L 111.41 274.16 L 111.66 276.84 L 111.84 283.93 L 112.03 285.29 L 112.28 291.10 L 112.46 292.03 L 112.52 293.70 L 112.71 288.89 L 112.89 290.12 L 113.14 297.88 L 113.39 304.53 L 113.45 303.68 L 113.51 304.73 L 113.57 308.07 L 113.82 310.31 L 113.88 310.00 L 114.25 304.03 L 114.37 302.95 L 114.44 303.62 L 114.68 310.02 L 114.74 307.81 L 114.81 311.79 L 114.87 308.59 L 115.05 311.55 L 115.11 311.04 L 115.18 310.89 L 115.30 308.85 L 115.48 308.96 L 115.67 305.44 L 115.98 311.87 L 116.04 309.52 L 116.16 312.58 L 116.35 314.27 L 116.41 313.50 L 116.47 313.51 L 116.59 309.85 L 116.78 304.22 L 116.84 304.89 L 116.90 307.09 L 116.97 306.01 L 117.03 305.44 L 117.34 297.44 L 117.40 300.07 L 117.46 297.96 L 117.64 285.95 L 117.77 293.65 L 117.89 283.28 L 118.08 290.59 L 118.14 288.55 L 118.20 289.03 L 118.26 292.83 L 118.32 284.40 L 118.57 281.20 L 118.63 283.40 L 118.69 279.20 L 118.75 280.92 L 118.94 279.14 L 119.06 282.59 L 119.12 275.68 L 119.19 278.04 L 119.37 276.92 L 119.43 276.99 L 119.62 277.28 L 119.93 280.60 L 119.99 279.66 L 120.05 280.77 L 120.24 281.78 L 120.67 268.53 L 120.79 269.41 L 120.91 269.84 L 121.10 274.64 L 121.16 270.76 L 121.22 278.90 L 121.28 275.01 L 121.35 275.67 L 121.65 280.53 L 121.78 288.34 L 121.96 288.20 L 122.40 272.65 L 122.46 273.30 L 122.89 281.35 L 122.95 279.99 L 123.01 279.58 L 123.07 279.96 L 123.51 270.06 L 123.75 273.41 L 123.81 272.49 L 123.88 274.37 L 123.94 272.86 L 124.12 273.48 L 124.18 269.80 L 124.25 276.75 L 124.31 274.83 L 124.37 276.25 L 124.62 278.39 L 125.11 269.22 L 125.23 269.57 L 125.42 268.70 L 125.54 273.73 L 125.60 271.86 L 125.67 267.54 L 125.85 268.74 L 125.97 273.20 L 126.04 268.95 L 126.41 271.54 L 126.78 264.52 L 126.84 266.78 L 126.90 263.05 L 126.96 264.59 L 127.15 257.05 L 127.21 263.09 L 127.27 261.13 L 127.33 259.81 L 127.39 263.67 L 127.64 254.49 L 127.70 256.84 L 127.76 254.49 L 127.83 254.66 L 128.01 264.14 L 128.20 255.29 L 128.26 258.86 L 128.50 256.47 L 128.63 254.49 L 128.87 254.49 L 128.94 254.89 L 129.00 256.17 L 129.06 260.89 L 129.12 254.49 L 129.55 254.49 L 129.92 256.16 L 129.98 254.49 L 130.17 254.49 L 130.35 260.94 L 130.42 254.49 L 130.60 256.52 L 130.79 265.11 L 130.85 263.71 L 131.03 263.57 L 131.22 268.16 L 131.47 271.17 L 131.53 270.37 L 131.59 270.21 L 131.65 268.09 L 131.71 268.81 L 131.96 263.61 L 132.08 264.06 L 132.14 263.20 L 132.39 267.62 L 132.45 267.13 L 132.51 264.43 L 132.58 268.04 L 132.76 271.74 L 132.95 278.10 L 133.01 279.84 L 133.19 275.93 L 133.25 279.78 L 133.32 277.63 L 133.38 277.17 L 133.63 282.14 L 133.69 282.01 L 133.75 282.08 L 133.87 281.98 L 134.06 283.37 L 134.24 275.32 L 134.30 280.36 L 134.49 280.97 L 134.55 280.13 L 134.74 275.60 L 134.92 272.76 L 134.98 273.61 L 135.35 267.12 L 135.41 261.79 L 135.48 263.57 L 135.54 265.52 L 135.60 271.19 L 135.85 265.24 L 135.91 270.40 L 135.97 270.28 L 136.03 263.11 L 136.22 259.85 L 136.28 261.31 L 136.34 266.24 L 136.40 263.63 L 136.46 263.35 L 136.71 254.49 L 136.77 255.71 L 136.90 262.24 L 137.14 258.22 L 137.20 260.69 L 137.27 257.57 L 137.33 260.09 L 137.57 254.49 L 137.64 254.49 L 137.70 254.97 L 137.76 254.49 L 137.94 254.85 L 138.19 259.05 L 138.38 254.62 L 138.44 254.87 L 138.56 254.49 L 138.81 256.27 L 138.93 255.20 L 138.99 256.31 L 139.06 254.49 L 139.24 255.12 L 139.36 260.93 L 139.49 255.79 L 139.67 263.42 L 139.73 256.88 L 139.80 257.26 L 139.86 255.65 L 139.92 260.64 L 140.17 264.61 L 140.23 267.55 L 140.29 261.04 L 140.35 265.11 L 140.54 266.63 L 140.72 270.78 L 140.97 266.08 L 141.03 267.48 L 141.15 263.05 L 141.21 265.36 L 141.83 258.22 L 141.89 258.29 L 141.96 257.90 L 142.08 255.00 L 142.26 255.33 L 142.33 255.11 L 142.45 256.58 L 142.51 254.49 L 142.70 256.04 L 142.76 254.49 L 142.82 256.09 L 142.88 254.49 L 142.94 255.71 L 143.19 257.88 L 143.25 254.92 L 143.31 257.21 L 143.37 256.63 L 143.56 261.65 L 143.62 266.34 L 143.68 265.96 L 143.74 266.20 L 143.81 264.49 L 144.11 275.10 L 144.18 272.86 L 144.24 274.76 L 144.42 276.47 L 144.48 276.24 L 144.67 274.27 L 144.92 271.87 L 144.98 267.91 L 145.04 268.75 L 145.10 268.31 L 145.41 259.59 L 145.53 263.55 L 145.72 264.50 L 145.78 254.49 L 145.84 256.66 L 145.90 255.56 L 145.97 255.65 L 146.21 254.49 L 146.27 254.49 L 146.34 255.62 L 146.40 259.38 L 146.58 259.14 L 146.64 259.98 L 146.77 254.49 L 147.01 259.19 L 147.14 254.49 L 147.20 261.51 L 147.26 255.54 L 147.45 257.96 L 147.51 254.49 L 147.57 257.03 L 147.63 256.26 L 147.69 259.42 L 147.88 259.04 L 148.00 254.49 L 148.06 254.64 L 148.31 260.77 L 148.50 255.27 L 148.56 255.10 L 148.74 257.92 L 148.93 254.49 L 149.17 254.49 L 149.36 259.17 L 149.42 260.06 L 149.67 268.28 L 149.85 276.75 L 150.29 273.05 L 150.53 268.17 L 150.59 269.44 L 150.66 266.96 L 150.72 267.08 L 150.96 262.93 L 151.15 266.33 L 151.58 274.65 L 151.77 274.64 L 152.38 263.75 L 152.63 266.50 L 152.81 267.40 L 152.88 270.07 L 153.06 271.76 L 153.12 270.91 L 153.19 271.55 L 153.49 274.80 L 153.68 271.18 L 153.74 272.48 L 153.99 266.91 L 154.05 272.51 L 154.11 266.39 L 154.17 268.58 L 154.36 266.98 L 154.42 264.68 L 154.48 258.21 L 154.54 259.97 L 154.85 254.49 L 154.91 254.49 L 154.97 255.56 L 155.04 258.91 L 155.22 258.38 L 155.41 254.49 L 155.47 254.49 L 155.65 255.44 L 155.90 254.49 L 156.09 255.44 L 156.27 259.31 L 156.52 265.93 L 156.58 262.45 L 156.64 263.23 L 156.70 263.04 L 156.76 268.90 L 156.95 269.46 L 157.07 271.76 L 157.13 276.55 L 157.20 273.57 L 157.38 271.32 L 157.44 271.89 L 157.57 275.38 L 157.63 273.88 L 157.81 283.01 L 157.87 281.69 L 158.06 276.16 L 158.24 280.20 L 158.68 296.20 L 158.92 300.30 L 159.17 298.61 L 159.36 294.34 L 159.54 297.72 L 159.60 297.15 L 159.66 296.73 L 159.79 291.09 L 159.97 294.15 L 160.03 293.69 L 160.10 289.51 L 160.16 290.01 L 160.22 291.79 L 160.53 283.78 L 160.59 286.03 L 160.65 282.67 L 160.84 284.20 L 160.90 281.22 L 161.02 286.44 L 161.08 283.88 L 161.27 284.72 L 161.39 281.16 L 161.45 284.04 L 161.52 282.26 L 161.70 282.10 L 161.76 278.72 L 161.89 281.74 L 161.95 277.34 L 162.19 271.27 L 162.32 276.77 L 162.38 273.47 L 162.69 278.72 L 162.81 275.00 L 163.00 276.98 L 163.12 280.10 L 163.18 274.62 L 163.24 276.32 L 163.43 274.87 L 163.55 271.77 L 163.61 273.58 L 163.67 271.92 L 163.98 275.54 L 164.05 270.32 L 164.11 271.41 L 164.29 273.40 L 164.35 273.16 L 164.42 272.70 L 164.48 270.12 L 164.54 275.16 L 164.72 274.92 L 164.79 273.22 L 164.85 267.34 L 164.91 268.61 L 164.97 270.60 L 165.16 270.66 L 165.22 270.45 L 165.59 273.92 L 166.02 279.53 L 166.08 279.05 L 166.14 278.25 L 166.20 279.84 L 166.27 277.75 L 166.45 276.43 L 166.57 272.98 L 166.70 278.20 L 166.88 272.67 L 166.95 273.61 L 167.13 271.46 L 167.32 274.86 L 167.50 263.70 L 167.56 260.20 L 167.75 262.69 L 167.81 268.25 L 167.87 267.55 L 167.93 267.79 L 168.18 262.41 L 168.24 266.93 L 168.30 262.47 L 168.36 265.59 L 168.43 262.01 L 168.61 261.58 L 168.67 261.95 L 168.73 261.42 L 169.04 265.49 L 169.23 254.49 L 169.29 254.53 L 169.47 256.14 L 169.54 260.22 L 169.60 256.21 L 169.66 258.56 L 169.72 259.37 L 169.91 259.76 L 169.97 259.24 L 170.03 259.66 L 170.09 259.29 L 170.15 259.76 L 170.40 259.29 L 170.59 262.01 L 170.83 264.16 L 170.96 268.65 L 171.02 267.50 L 171.45 273.78 L 171.63 273.21 L 171.70 273.71 L 171.76 270.98 L 171.82 275.35 L 171.88 274.97 L 172.07 274.48 L 172.25 267.49 L 172.31 273.94 L 172.50 269.70 L 172.56 270.30 L 172.62 270.94 L 172.68 267.64 L 172.75 269.62 L 172.93 271.13 L 173.18 262.33 L 173.36 259.06 L 173.42 254.78 L 173.49 257.23 L 173.55 260.89 L 173.61 260.29 L 173.79 260.08 L 173.86 260.76 L 173.92 256.78 L 173.98 257.97 L 174.04 261.37 L 174.35 254.92 L 174.41 254.92 L 174.47 254.50 L 174.66 254.84 L 174.90 257.92 L 175.09 260.31 L 175.15 265.00 L 175.21 264.58 L 175.34 265.21 L 175.71 271.18 L 175.95 267.65 L 176.39 258.18 L 176.45 259.53 L 176.63 254.49 L 176.94 258.68 L 177.00 255.32 L 177.06 257.77 L 177.50 254.82 L 177.74 257.98 L 177.80 257.66 L 177.87 257.01 L 177.93 257.32 L 178.11 258.96 L 178.18 258.71 L 178.24 258.66 L 178.36 257.95 L 178.55 257.96 L 178.61 256.07 L 178.67 257.00 L 178.73 258.45 L 178.79 258.27 L 179.04 254.49 L 179.22 254.49 L 179.41 255.19 L 179.47 255.15 L 179.59 254.49 L 179.66 254.49 L 179.84 254.69 L 179.96 254.49 L 180.03 254.60 L 180.09 258.75 L 180.52 254.49 L 180.71 254.49 L 180.77 259.05 L 180.95 254.49 L 181.14 256.29 L 181.26 260.03 L 181.32 257.61 L 181.38 262.35 L 181.82 265.07 L 182.12 262.77 L 182.19 263.69 L 182.43 258.19 L 182.49 261.01 L 182.56 259.94 L 182.62 257.34 L 182.68 260.38 L 182.86 257.78 L 182.93 259.83 L 183.05 254.49 L 183.11 254.49 L 183.30 254.83 L 183.36 254.59 L 183.42 254.87 L 183.48 254.79 L 183.54 254.49 L 183.85 258.03 L 183.91 257.07 L 184.16 263.24 L 184.22 262.76 L 184.28 262.06 L 184.65 277.79 L 184.72 276.52 L 185.02 284.79 L 185.09 283.88 L 185.46 281.39 L 185.52 278.00 L 185.58 281.67 L 185.64 276.87 L 185.70 279.03 L 185.89 279.27 L 185.95 273.87 L 186.01 274.76 L 186.07 277.48 L 186.13 275.85 L 186.38 268.29 L 186.44 270.81 L 186.51 268.80 L 186.57 266.62 L 186.75 265.91 L 186.88 262.65 L 186.94 262.74 L 187.43 254.94 L 187.68 259.05 L 187.80 263.29 L 188.11 255.19 L 188.29 264.29 L 188.48 263.93 L 188.60 258.82 L 188.66 255.28 L 188.97 273.03 L 189.04 268.87 L 189.16 260.81 L 189.34 258.38 L 189.53 266.59 L 189.78 256.15 L 190.02 274.26 L 190.33 256.70 L 190.39 261.43 L 190.64 277.96 L 190.89 261.89 L 191.32 287.96 L 191.50 291.52 L 191.56 291.11 L 191.94 286.64 L 192.00 287.25 L 192.06 282.58 L 192.12 283.82 L 192.18 281.92 L 192.37 281.83 L 192.43 282.46 L 192.55 281.13 L 192.61 281.49 L 192.86 283.77 L 193.05 289.44 L 193.23 287.61 L 193.42 290.26 L 193.48 289.74 L 193.79 291.47 L 193.91 298.25 L 194.09 299.79 L 194.16 301.91 L 194.22 301.53 L 194.28 295.97 L 194.34 300.50 L 194.53 299.54 L 194.59 303.70 L 194.65 301.71 L 194.77 302.82 L 194.96 302.75 L 195.02 300.01 L 195.21 307.72 L 195.39 306.67 L 195.45 308.16 L 195.51 306.62 L 195.58 308.44 L 195.64 305.98 L 195.82 312.81 L 195.88 312.47 L 195.95 311.75 L 196.07 313.62 L 196.32 311.04 L 196.81 297.56 L 196.87 295.59 L 196.93 295.78 L 197.12 296.96 L 197.24 295.10 L 197.67 308.60 L 197.74 303.97 L 197.80 306.28 L 197.98 307.67 L 198.04 306.07 L 198.48 316.11 L 198.66 312.81 L 198.85 305.75 L 198.91 308.96 L 198.97 307.44 L 199.34 294.24 L 199.40 293.63 L 199.46 290.46 L 199.52 296.78 L 199.89 290.35 L 199.96 292.39 L 200.14 291.60 L 200.27 287.54 L 200.33 289.58 L 200.39 283.70 L 200.57 279.85 L 200.64 287.30 L 200.70 285.42 L 200.76 279.24 L 200.82 280.80 L 201.01 281.30 L 201.13 283.40 L 201.50 278.58 L 201.68 280.85 L 202.05 276.92 L 202.42 279.23 L 202.55 281.08 L 202.73 280.25 L 202.79 284.28 L 202.86 280.18 L 202.92 282.15 L 202.98 284.99 L 203.23 287.57 L 203.29 286.24 L 203.35 288.20 L 203.60 286.23 L 203.84 296.46 L 204.03 294.03 L 204.09 290.50 L 204.15 290.58 L 204.28 296.55 L 204.46 292.35 L 204.58 296.24 L 204.71 291.25 L 204.89 294.46 L 205.14 303.83 L 205.45 309.69 L 205.76 304.70 L 205.88 311.31 L 205.94 311.80 L 206.00 310.71 L 206.19 309.65 L 206.37 318.19 L 206.44 317.68 L 206.62 314.74 L 206.68 314.88 L 206.74 317.59 L 206.81 317.07 L 206.87 316.00 L 207.05 314.91 L 207.24 321.27 L 207.30 321.14 L 207.48 314.70 L 207.55 321.83 L 207.61 319.87 L 207.67 317.91 L 207.92 320.33 L 207.98 322.21 L 208.04 321.38 L 208.10 321.31 L 208.16 321.84 L 208.35 327.96 L 208.41 325.78 L 208.47 327.13 L 208.53 326.74 L 208.60 324.71 L 208.84 321.97 L 208.90 325.09 L 208.97 322.67 L 209.03 321.24 L 209.21 321.01 L 209.27 320.29 L 209.40 325.37 L 209.46 323.38 L 209.64 328.46 L 209.71 326.21 L 209.77 327.37 L 209.83 327.41 L 209.89 331.01 L 210.08 330.31 L 210.26 323.21 L 210.57 333.79 L 210.63 332.27 L 210.69 334.18 L 210.94 336.17 L 211.00 332.86 L 211.19 345.46 L 211.56 352.73 L 212.05 394.22 L 212.24 391.87 L 212.48 384.38 L 212.67 383.44 L 212.73 384.28 L 212.85 389.00 L 212.91 388.93 L 213.10 391.63 L 213.53 378.58 L 213.59 377.39 L 213.65 377.86 L 213.72 377.76 L 214.03 383.82 L 214.46 370.56 L 214.52 372.13 L 214.58 370.84 L 214.64 373.32 L 214.83 375.26 L 215.07 359.99 L 215.26 365.67 L 215.32 364.51 L 215.51 355.77 L 215.75 362.22 L 215.81 360.33 L 215.94 354.95 L 216.12 352.96 L 216.18 355.95 L 216.37 355.67 L 216.55 347.19 L 216.80 357.13 L 217.05 347.18 L 217.23 356.26 L 217.48 351.74 L 217.54 349.77 L 217.67 356.48 L 217.85 359.88 L 218.04 350.85 L 218.28 361.78 L 218.34 360.21 L 218.53 349.48 L 218.84 363.30 L 218.96 357.19 L 219.15 357.49 L 219.33 366.76 L 219.58 356.61 L 219.83 371.81 L 220.07 360.92 L 220.26 368.84 L 220.44 366.91 L 220.57 362.91 L 220.63 363.20 L 220.87 363.86 L 221.31 347.45 L 221.37 345.87 L 221.43 346.25 L 221.49 349.81 L 221.55 344.75 L 221.74 347.26 L 221.98 340.72 L 222.17 339.10 L 222.29 343.11 L 222.36 339.97 L 222.42 340.37 L 222.66 341.46 L 222.73 339.62 L 222.79 342.24 L 222.85 341.83 L 223.03 342.05 L 223.22 330.79 L 223.28 336.57 L 223.47 332.56 L 223.59 327.31 L 223.65 327.80 L 223.71 322.92 L 224.08 329.65 L 224.14 325.97 L 224.33 324.21 L 224.45 327.78 L 224.58 322.49 L 224.76 324.10 L 224.88 320.55 L 224.95 325.59 L 225.01 323.59 L 225.19 320.18 L 225.26 321.36 L 225.32 325.25 L 225.63 313.82 L 225.69 321.27 L 225.75 312.27 L 225.81 317.72 L 225.87 314.47 L 226.12 311.28 L 226.18 312.25 L 226.24 315.01 L 226.30 311.13 L 226.49 310.26 L 226.55 314.23 L 226.74 299.76 L 226.92 303.51 L 227.11 296.10 L 227.17 298.99 L 227.35 301.10 L 227.41 299.46 L 227.48 302.87 L 227.54 302.30 L 227.60 297.36 L 227.78 295.67 L 228.03 284.69 L 228.22 285.21 L 228.28 282.56 L 228.34 285.64 L 228.40 285.18 L 228.46 281.06 L 228.65 280.25 L 229.14 265.01 L 229.20 265.66 L 229.27 265.42 L 229.33 264.50 L 229.64 254.49 L 229.70 257.36 L 229.76 255.19 L 229.94 256.03 L 230.07 254.49 L 230.19 254.49 L 230.44 255.97 L 230.50 259.03 L 230.56 257.25 L 230.62 258.79 L 230.81 256.46 L 230.87 257.45 L 230.99 254.49 L 231.06 257.56 L 231.24 257.43 L 231.30 257.68 L 231.43 254.49 L 231.73 254.49 L 231.80 256.74 L 231.86 254.49 L 231.92 255.15 L 232.10 259.53 L 232.23 254.49 L 232.60 262.28 L 232.97 255.07 L 233.03 256.34 L 233.65 271.98 L 234.08 268.41 L 234.39 263.72 L 234.45 264.44 L 234.76 267.62 L 234.82 266.67 L 234.88 263.76 L 234.94 265.81 L 235.62 279.15 L 235.68 277.43 L 235.81 280.60 L 235.99 283.79 L 236.05 279.14 L 236.11 280.11 L 236.18 278.81 L 236.24 280.26 L 236.42 281.72 L 236.55 283.40 L 236.67 283.00 L 237.10 270.62 L 237.29 270.32 L 237.35 268.76 L 237.41 270.43 L 237.47 270.22 L 237.72 266.81 L 237.84 263.70 L 237.90 266.56 L 237.97 260.46 L 238.15 259.16 L 238.21 259.59 L 238.27 261.73 L 238.34 261.71 L 238.64 258.76 L 238.71 262.59 L 239.02 257.56 L 239.08 254.49 L 239.14 259.23 L 239.20 255.99 L 239.26 255.98 L 239.45 256.42 L 239.51 254.49 L 239.57 257.39 L 239.63 256.16 L 239.69 254.49 L 239.94 255.20 L 240.06 254.75 L 240.13 255.34 L 240.56 265.46 L 240.74 274.88 L 240.80 272.77 L 240.93 274.44 L 240.99 272.55 L 241.36 280.01 L 241.42 279.56 L 242.10 272.12 L 242.16 271.96 L 242.22 272.40 L 242.29 267.17 L 242.53 267.27 L 242.59 269.81 L 242.66 269.04 L 242.72 266.00 L 242.90 263.69 L 243.03 265.47 L 243.09 264.08 L 243.15 266.66 L 243.33 265.44 L 243.40 260.98 L 243.46 261.77 L 243.58 257.60 L 243.77 256.95 L 243.83 258.01 L 243.89 254.49 L 243.95 255.19 L 244.01 257.47 L 244.26 255.03 L 244.32 257.30 L 244.38 256.00 L 244.44 256.01 L 244.63 259.51 L 244.75 256.48 L 244.82 256.53 L 244.88 258.86 L 245.19 254.92 L 245.25 255.70 L 245.31 254.64 L 245.49 255.02 L 246.11 263.73 L 246.17 262.68 L 246.42 271.49 L 246.85 277.70 L 246.91 276.28 L 246.97 278.77 L 247.04 278.21 L 247.22 278.72 L 247.28 280.75 L 247.35 280.30 L 247.41 278.63 L 247.65 282.48 L 247.78 283.40 L 248.52 272.79 L 248.64 270.73 L 248.70 265.00 L 248.76 266.79 L 249.07 262.71 L 249.20 260.59 L 249.38 260.39 L 249.81 265.40 L 249.87 265.54 L 249.94 265.96 L 250.49 259.54 L 250.68 256.07 L 250.80 258.99 L 250.92 255.96 L 251.17 256.91 L 251.23 257.28 L 251.36 254.49 L 251.54 255.38 L 251.66 254.49 L 251.79 254.77 L 252.10 260.06 L 252.22 260.01 L 252.40 261.67 L 252.47 261.41 L 252.53 263.86 L 252.59 262.56 L 252.65 263.77 L 252.84 264.65 L 253.39 257.05 L 253.45 259.10 L 253.52 259.01 L 253.70 258.85 L 253.76 256.21 L 253.82 260.07 L 253.89 254.94 L 253.95 256.43 L 254.13 257.23 L 254.32 254.49 L 255.06 254.49 L 255.12 256.10 L 255.18 255.65 L 255.24 254.49 L 255.43 256.71 L 255.55 254.49 L 255.61 254.49 L 255.68 258.56 L 255.92 254.49 L 256.05 254.79 L 256.11 259.52 L 256.29 256.16 L 256.35 257.58 L 256.42 255.30 L 256.48 260.04 L 256.54 256.97 L 256.72 258.63 L 256.79 257.15 L 256.91 260.96 L 256.97 255.84 L 257.34 263.31 L 257.40 259.60 L 257.59 257.69 L 257.71 265.31 L 257.83 259.69 L 258.02 260.24 L 258.08 259.77 L 258.27 266.15 L 258.45 267.29 L 258.64 259.81 L 258.70 262.47 L 258.88 264.47 L 259.01 262.78 L 259.13 264.67 L 259.32 263.61 L 259.44 262.28 L 259.50 262.26 L 259.56 260.14 L 259.75 258.23 L 259.81 259.96 L 259.87 258.93 L 259.93 258.82 L 259.99 256.67 L 260.18 256.12 L 260.30 254.49 L 260.36 258.32 L 260.43 255.94 L 260.67 254.49 L 260.73 254.49 L 260.86 257.24 L 261.04 254.49 L 261.17 259.68 L 261.23 254.49 L 261.48 255.84 L 261.54 255.59 L 261.66 258.22 L 261.72 258.09 L 261.91 256.48 L 261.97 254.49 L 262.03 259.02 L 262.09 254.63 L 262.15 256.88 L 262.34 257.44 L 262.40 254.49 L 262.46 254.57 L 262.52 257.56 L 262.59 254.49 L 262.77 255.33 L 262.83 254.49 L 262.89 254.55 L 262.96 254.49 L 263.02 255.86 L 263.20 255.43 L 263.39 259.73 L 263.45 260.40 L 263.63 258.08 L 263.76 262.45 L 263.82 259.54 L 264.07 268.70 L 264.13 267.68 L 264.19 271.68 L 264.25 269.16 L 264.31 268.39 L 264.56 274.20 L 264.62 273.45 L 264.68 273.77 L 264.75 276.06 L 264.93 275.10 L 265.05 278.09 L 265.12 277.48 L 265.18 277.49 L 265.36 278.19 L 265.79 272.57 L 265.86 273.25 L 265.92 272.88 L 265.98 269.32 L 266.04 269.96 L 266.35 260.60 L 266.41 258.36 L 266.47 260.61 L 266.66 260.48 L 266.84 254.49 L 266.91 255.37 L 267.15 254.49 L 267.65 254.49 L 267.71 254.76 L 267.77 254.49 L 268.08 254.49 L 268.14 254.80 L 268.20 254.49 L 268.39 254.49 L 268.45 256.77 L 268.51 256.72 L 268.63 254.49 L 268.88 254.49 L 269.25 260.77 L 269.31 259.75 L 269.37 264.68 L 269.43 264.45 L 269.50 265.56 L 269.87 276.94 L 269.93 273.56 L 270.11 273.99 L 270.24 278.06 L 270.30 273.53 L 270.36 274.46 L 270.55 274.55 L 270.61 274.27 L 270.79 276.93 L 271.04 276.69 L 271.59 269.72 L 271.66 271.07 L 272.03 266.38 L 272.09 266.57 L 272.33 259.11 L 272.46 261.13 L 272.52 256.72 L 272.77 260.19 L 272.89 259.84 L 272.95 257.61 L 273.14 259.72 L 273.20 257.36 L 273.26 260.57 L 273.32 259.77 L 273.38 261.00 L 273.57 259.95 L 273.63 260.18 L 273.69 260.26 L 273.82 259.42 L 274.12 263.15 L 274.25 261.15 L 274.43 261.69 L 274.62 263.03 L 274.68 260.51 L 274.86 261.62 L 275.05 271.82 L 275.11 271.24 L 275.48 283.03 L 275.54 281.12 L 275.98 292.11 L 276.16 293.02 L 276.22 292.73 L 276.28 293.77 L 276.41 290.77 L 276.65 295.76 L 276.78 292.11 L 277.02 302.81 L 277.15 304.47 L 277.21 308.08 L 277.27 306.38 L 277.52 313.88 L 277.58 310.36 L 277.70 313.54 L 277.95 315.08 L 278.14 318.47 L 278.38 319.59 L 278.94 301.65 L 279.00 304.52 L 279.18 301.17 L 279.25 302.32 L 279.43 292.92 L 279.68 291.73 L 279.80 290.30 L 280.11 294.41 L 280.17 293.87 L 280.48 296.78 L 280.73 295.91 L 280.91 292.81 L 280.97 293.69 L 281.16 290.82 L 281.59 299.95 L 281.84 307.28 L 282.45 292.76 L 282.64 292.73 L 282.76 294.23 L 282.89 300.11 L 283.13 304.57 L 283.32 307.35 L 283.50 305.87 L 283.57 302.91 L 283.63 303.27 L 283.69 304.35 L 283.75 303.16 L 283.94 303.54 L 284.00 303.08 L 284.06 300.18 L 284.12 300.97 L 284.18 300.76 L 284.49 294.47 L 284.55 294.73 L 284.61 294.65 L 284.80 291.40 L 284.86 293.52 L 284.92 289.89 L 284.98 294.49 L 285.05 294.31 L 285.23 294.36 L 285.42 284.99 L 285.48 287.67 L 285.72 284.50 L 285.79 284.65 L 285.85 285.60 L 285.91 283.11 L 286.09 285.47 L 286.22 281.25 L 286.34 283.11 L 286.53 283.59 L 286.59 276.73 L 286.65 281.11 L 286.71 276.22 L 286.77 276.42 L 286.96 278.15 L 287.02 280.58 L 287.14 273.76 L 287.21 278.44 L 287.39 278.54 L 287.45 275.68 L 287.51 276.18 L 287.64 272.68 L 287.95 279.37 L 288.01 273.39 L 288.07 277.30 L 288.25 281.65 L 288.44 272.91 L 288.50 276.00 L 288.69 276.21 L 288.81 272.58 L 288.87 275.16 L 288.93 274.13 L 289.12 275.01 L 289.18 275.84 L 289.24 275.75 L 289.30 275.71 L 289.37 275.86 L 289.55 275.83 L 289.61 277.33 L 289.74 275.69 L 289.98 279.47 L 290.04 279.41 L 290.17 277.21 L 290.23 278.04 L 290.41 277.57 L 290.60 284.17 L 290.66 280.84 L 290.85 281.83 L 290.91 283.36 L 290.97 280.79 L 291.03 281.10 L 291.09 288.78 L 291.28 286.34 L 291.34 288.61 L 291.46 280.06 L 291.52 285.09 L 292.39 301.50 L 292.57 299.71 L 292.70 300.81 L 292.82 299.49 L 293.01 295.62 L 293.07 299.34 L 293.13 296.70 L 293.25 294.54 L 293.44 293.38 L 293.50 290.76 L 293.62 291.25 L 293.68 290.52 L 293.87 289.83 L 293.93 287.61 L 293.99 292.62 L 294.05 289.26 L 294.12 289.91 L 294.42 288.17 L 294.49 288.42 L 294.80 293.91 L 294.86 291.67 L 294.92 292.82 L 295.29 300.61 L 295.41 298.76 L 295.60 299.41 L 295.66 302.22 L 295.72 300.96 L 295.78 302.01 L 296.03 296.85 L 296.28 304.27 L 296.46 304.10 L 296.52 302.70 L 296.58 303.15 L 296.65 303.21 L 296.71 302.67 L 297.57 282.17 L 297.82 266.54 L 298.44 273.75 L 298.62 272.55 L 298.68 275.71 L 298.74 275.33 L 298.87 276.53 L 299.18 272.21 L 299.30 269.54 L 299.48 270.82 L 299.61 262.69 L 299.67 263.04 L 299.92 261.47 L 299.98 260.41 L 300.04 260.60 L 300.10 260.98 L 300.16 260.43 L 300.35 262.15 L 300.41 262.12 L 300.47 265.20 L 300.53 263.67 L 300.60 262.70 L 300.84 265.16 L 300.97 260.26 L 301.03 265.10 L 301.27 268.41 L 301.40 261.96 L 301.64 269.88 L 301.71 270.93 L 301.77 268.54 L 301.83 272.22 L 301.89 268.93 L 302.08 269.37 L 302.14 272.33 L 302.20 272.18 L 302.26 272.02 L 302.32 270.39 L 302.51 275.78 L 302.57 272.97 L 302.69 277.16 L 302.75 276.08 L 302.94 276.86 L 303.06 280.16 L 303.13 279.40 L 303.19 275.83 L 303.37 275.94 L 303.56 278.12 L 303.62 277.90 L 303.80 275.84 L 303.87 276.36 L 303.93 276.35 L 304.05 274.28 L 304.24 274.28 L 304.42 267.93 L 304.48 268.58 L 304.67 267.80 L 304.79 266.60 L 304.85 267.24 L 304.91 266.55 L 305.22 259.09 L 305.28 264.24 L 305.35 262.95 L 305.53 261.91 L 305.59 260.40 L 305.65 261.04 L 305.72 261.26 L 305.78 258.49 L 305.96 258.39 L 306.09 259.94 L 306.21 257.03 L 306.58 257.77 L 306.64 258.76 L 306.83 258.48 L 307.07 263.31 L 307.32 262.59 L 307.38 263.08 L 307.44 264.75 L 307.51 272.05 L 307.69 267.47 L 307.75 270.03 L 307.88 263.75 L 307.94 264.74 L 308.31 268.24 L 308.56 269.10 L 308.80 266.28 L 309.11 262.55 L 309.17 261.15 L 309.23 261.27 L 309.48 260.08 L 309.67 258.16 L 309.91 256.99 L 309.97 257.32 L 310.04 258.69 L 310.28 254.49 L 310.53 262.25 L 310.71 263.48 L 310.84 259.21 L 311.15 264.69 L 311.21 263.29 L 311.27 265.47 L 311.39 260.01 L 311.58 257.16 L 311.83 273.72 L 312.13 267.31 L 312.20 267.73 L 312.50 270.78 L 312.57 270.31 L 312.63 270.44 L 312.69 270.22 L 312.87 270.58 L 313.06 264.90 L 313.12 268.48 L 313.43 264.94 L 313.49 264.90 L 313.55 263.14 L 313.74 263.83 L 313.80 261.51 L 313.86 261.85 L 313.92 262.96 L 313.98 262.83 L 314.17 262.93 L 314.23 260.35 L 314.29 261.59 L 314.36 260.70 L 314.60 263.79 L 314.66 259.52 L 314.73 262.12 L 314.85 258.85 L 315.03 262.82 L 315.10 262.72 L 315.22 261.64 L 315.28 261.97 L 315.47 258.99 L 315.53 259.22 L 315.59 258.82 L 315.65 259.03 L 315.71 258.80 L 316.33 269.33 L 316.39 272.19 L 316.45 271.23 L 316.51 271.25 L 316.76 277.88 L 316.89 274.55 L 317.01 280.14 L 317.38 286.54 L 317.63 283.99 L 317.69 284.42 L 318.06 280.70 L 318.12 282.64 L 318.49 272.78 L 318.55 273.52 L 318.74 268.52 L 318.92 267.21 L 319.04 269.30 L 319.11 269.45 L 319.17 269.19 L 319.35 269.09 L 319.48 274.39 L 319.60 273.59 L 319.85 269.38 L 319.91 270.08 L 320.03 268.73 L 320.22 270.10 L 320.34 269.26 L 320.46 273.21 L 320.65 273.72 L 320.90 277.15 L 321.20 274.62 L 321.27 273.25 L 321.33 273.95 L 321.51 272.25 L 321.70 265.63 L 321.76 269.18 L 322.07 262.77 L 322.13 262.99 L 322.19 259.51 L 322.44 258.57 L 322.50 258.09 L 322.56 256.11 L 322.62 257.75 L 322.81 254.80 L 322.87 255.17 L 322.99 256.29 L 323.06 255.37 L 323.30 254.49 L 323.80 254.49 L 323.86 259.39 L 323.92 254.49 L 324.10 254.57 L 324.17 256.32 L 324.23 255.52 L 324.29 255.75 L 324.35 254.49 L 324.54 254.49 L 324.72 255.45 L 324.78 254.49 L 324.97 256.78 L 325.03 260.41 L 325.09 258.08 L 325.15 258.15 L 325.22 258.42 L 325.40 262.74 L 325.52 255.40 L 325.59 262.13 L 325.65 258.69 L 325.83 262.41 L 325.89 260.41 L 326.08 264.26 L 326.26 264.90 L 326.33 264.51 L 326.45 263.17 L 326.51 264.21 L 326.70 258.94 L 326.76 259.14 L 326.88 257.70 L 326.94 257.93 L 327.25 261.45 L 327.37 260.59 L 327.62 263.62 L 327.68 263.56 L 327.74 263.91 L 327.81 263.51 L 327.99 264.28 L 328.12 261.70 L 328.18 262.25 L 328.24 264.62 L 328.61 261.73 L 328.67 261.74 L 328.86 263.19 L 329.04 263.57 L 329.10 263.52 L 329.29 266.77 L 329.35 264.50 L 329.47 268.15 L 329.53 267.71 L 329.78 270.05 L 329.84 269.64 L 329.97 265.03 L 330.15 268.90 L 330.21 266.32 L 330.34 269.21 L 330.40 268.36 L 330.58 270.25 L 330.64 267.40 L 330.77 274.06 L 330.83 272.33 L 331.14 276.54 L 331.51 271.22 L 331.57 269.23 L 331.63 270.53 L 331.69 268.94 L 331.88 269.77 L 331.94 269.26 L 332.06 267.21 L 332.13 267.48 L 332.31 266.31 L 332.56 267.85 L 332.80 271.88 L 332.87 266.44 L 332.93 271.50 L 332.99 269.82 L 333.24 268.88 L 333.30 272.87 L 333.36 272.42 L 333.42 271.30 L 333.61 270.17 L 333.73 272.80 L 333.85 270.73 L 334.04 271.57 L 334.22 269.24 L 334.29 267.81 L 334.47 267.52 L 334.59 264.99 L 334.66 266.24 L 334.72 263.37 L 334.90 262.32 L 334.96 263.07 L 335.03 261.60 L 335.09 264.85 L 335.15 263.08 L 335.46 259.15 L 335.58 265.30 L 335.89 258.89 L 335.95 260.01 L 336.01 261.38 L 336.20 260.80 L 336.32 262.96 L 336.38 261.70 L 336.75 266.48 L 336.88 268.16 L 337.06 267.07 L 337.19 268.32 L 337.31 263.67 L 337.49 262.70 L 337.68 263.91 L 337.74 261.66 L 338.11 260.79 L 338.17 260.90 L 338.36 260.70 L 338.42 263.32 L 338.48 262.00 L 338.54 258.39 L 338.85 263.56 L 338.97 261.86 L 339.22 265.53 L 339.35 265.35 L 339.41 265.42 L 339.72 263.63 L 339.78 260.20 L 339.84 261.21 L 339.90 261.45 L 340.21 265.38 L 340.27 264.46 L 340.33 265.17 L 340.52 263.94 L 340.58 262.57 L 340.64 263.61 L 340.76 264.84 L 341.13 256.03 L 341.20 258.35 L 341.38 256.33 L 341.44 259.54 L 341.57 254.49 L 341.63 256.05 L 341.81 256.13 L 341.88 255.31 L 341.94 255.40 L 342.06 255.03 L 342.25 255.38 L 342.31 256.19 L 342.37 254.71 L 342.43 257.17 L 342.49 256.06 L 342.74 257.70 L 342.80 256.71 L 342.86 257.52 L 343.11 256.87 L 343.17 257.15 L 343.23 255.75 L 343.29 257.28 L 343.36 256.34 L 343.60 259.45 L 343.73 255.54 L 343.79 257.38 L 343.97 255.45 L 344.03 255.90 L 344.22 255.60 L 344.40 257.75 L 344.47 255.13 L 344.53 255.24 L 344.84 261.57 L 344.90 261.75 L 344.96 257.90 L 345.02 258.51 L 345.08 260.47 L 345.27 260.64 L 345.33 256.53 L 345.39 259.39 L 345.45 261.24 L 345.52 258.15 L 345.76 261.82 L 345.89 267.15 L 346.13 269.66 L 346.38 267.14 L 346.63 270.12 L 346.75 275.75 L 346.81 274.21 L 347.24 275.57 L 347.43 274.92 L 347.61 273.30 L 347.86 274.82 L 347.98 268.35 L 348.11 269.12 L 348.35 266.19 L 348.42 270.62 L 348.48 266.10 L 348.54 268.38 L 348.79 269.80 L 348.85 268.05 L 348.91 268.48 L 348.97 268.98 L 349.16 266.06 L 349.28 269.36 L 349.40 266.74 L 349.59 266.57 L 349.77 266.99 L 349.83 266.43 L 350.21 272.67 L 350.27 272.58 L 350.45 269.49 L 350.58 273.24 L 350.70 269.71 L 350.88 270.06 L 350.95 273.88 L 351.01 273.83 L 351.13 271.93 L 351.38 276.26 L 351.56 275.21 L 351.75 275.94 L 351.87 277.05 L 351.93 277.03 L 351.99 276.89 L 352.18 275.79 L 352.24 274.04 L 352.30 274.24 L 352.36 275.17 L 352.43 273.74 L 352.61 274.66 L 352.67 273.07 L 352.73 273.56 L 352.80 266.54 L 352.86 267.79 L 353.23 274.64 L 353.29 273.46 L 353.48 272.84 L 353.54 269.23 L 353.60 270.66 L 353.72 273.39 L 353.91 273.37 L 354.09 267.32 L 354.15 269.85 L 354.34 266.86 L 354.40 267.51 L 354.46 268.20 L 354.52 272.57 L 354.59 272.51 L 354.83 264.92 L 354.96 265.52 L 355.02 267.63 L 355.20 267.51 L 355.26 268.04 L 355.39 264.47 L 355.45 265.43 L 355.63 265.09 L 355.76 262.73 L 355.82 264.79 L 355.88 259.96 L 356.07 260.45 L 356.13 261.16 L 356.25 258.00 L 356.31 260.13 L 356.50 259.02 L 356.68 265.29 L 356.75 259.00 L 356.93 262.79 L 356.99 258.72 L 357.05 260.33 L 357.12 261.08 L 357.49 254.49 L 357.55 254.80 L 357.61 254.49 L 357.79 255.90 L 357.86 254.96 L 357.92 255.01 L 357.98 255.10 L 358.04 254.77 L 358.35 256.94 L 358.47 259.79 L 358.66 260.21 L 358.78 262.65 L 358.84 262.22 L 358.91 263.79 L 359.09 263.88 L 359.21 262.46 L 359.28 264.06 L 359.34 259.37 L 359.52 264.42 L 359.65 258.18 L 359.71 258.58 L 359.77 259.72 L 360.02 259.02 L 360.08 259.02 L 360.20 260.47 L 360.39 260.66 L 360.51 263.66 L 360.57 263.21 L 360.63 266.36 L 360.82 263.69 L 360.88 264.51 L 360.94 268.61 L 361.00 267.60 L 361.06 268.67 L 361.50 270.95 L 361.81 267.52 L 361.93 268.58 L 362.11 268.35 L 362.30 262.84 L 362.36 263.11 L 362.55 262.95 L 362.73 263.56 L 362.79 262.59 L 362.98 262.25 L 363.10 266.24 L 363.16 262.68 L 363.22 263.67 L 363.41 266.61 L 363.47 264.75 L 363.66 270.26 L 363.84 275.47 L 363.90 271.33 L 363.96 274.64 L 364.03 274.58 L 364.09 274.93 L 364.27 272.30 L 364.40 273.20 L 364.46 276.89 L 364.52 274.92 L 364.71 277.48 L 364.83 273.58 L 364.89 274.10 L 364.95 270.04 L 365.26 275.44 L 365.32 277.15 L 365.38 275.72 L 365.57 276.57 L 365.63 279.30 L 365.69 279.19 L 365.75 279.79 L 365.82 279.73 L 366.43 295.18 L 366.56 294.19 L 366.68 295.43 L 366.87 295.43 L 367.05 290.78 L 367.30 285.24 L 367.36 289.63 L 367.42 286.78 L 367.48 286.29 L 367.54 286.36 L 367.85 280.17 L 367.91 281.99 L 368.16 272.69 L 368.28 279.00 L 368.41 273.46 L 368.59 272.11 L 368.65 274.98 L 368.72 271.32 L 368.78 273.56 L 368.84 274.86 L 369.09 271.96 L 369.21 269.06 L 369.27 270.13 L 369.46 268.26 L 369.52 269.40 L 369.58 268.03 L 369.70 274.12 L 369.89 269.64 L 369.95 271.44 L 370.01 270.45 L 370.14 269.84 L 370.38 269.08 L 370.44 270.36 L 370.51 269.65 L 370.57 268.04 L 370.81 270.29 L 370.88 269.42 L 370.94 266.78 L 371.00 272.20 L 371.18 272.05 L 371.25 272.39 L 371.31 271.97 L 371.43 272.46 L 371.80 273.44 L 372.05 272.42 L 372.11 272.78 L 372.17 271.56 L 372.23 271.77 L 372.91 276.92 L 372.97 279.05 L 373.04 278.60 L 373.10 274.33 L 373.16 281.90 L 373.41 278.76 L 373.53 283.23 L 373.78 277.03 L 373.84 280.11 L 373.90 276.15 L 374.21 279.12 L 374.33 281.09 L 374.39 280.99 L 374.45 280.03 L 374.76 284.06 L 374.82 282.02 L 374.89 282.64 L 375.13 288.48 L 375.20 287.08 L 375.32 289.31 L 375.50 291.87 L 375.57 291.29 L 375.69 288.82 L 375.75 290.62 L 375.94 290.36 L 376.12 293.11 L 376.18 294.14 L 376.37 293.64 L 376.43 294.98 L 376.61 289.09 L 376.80 291.29 L 376.86 285.88 L 376.92 288.12 L 376.98 286.51 L 377.05 292.45 L 377.35 284.13 L 377.42 284.19 L 377.48 286.53 L 377.85 279.94 L 378.10 276.92 L 378.28 282.74 L 378.34 277.05 L 378.53 275.93 L 378.65 278.30 L 378.71 277.72 L 378.77 277.46 L 378.96 277.68 L 379.02 278.22 L 379.08 274.35 L 379.14 275.73 L 379.21 276.87 L 379.45 276.36 L 379.51 276.21 L 379.58 276.28 L 379.95 279.44 L 380.01 278.18 L 380.07 278.76 L 380.32 278.47 L 380.38 278.04 L 380.44 276.72 L 380.50 276.83 L 380.69 276.27 L 380.93 273.21 L 381.18 272.32 L 381.24 272.73 L 381.37 274.01 L 381.55 272.98 L 381.61 271.82 L 381.67 273.27 L 381.80 273.09 L 381.98 274.84 L 382.11 278.35 L 382.23 274.69 L 382.41 273.18 L 382.48 275.83 L 382.54 275.61 L 382.60 275.32 L 382.97 279.49 L 383.03 279.26 L 383.53 269.23 L 383.77 266.03 L 383.96 268.51 L 384.14 269.44 L 384.39 274.90 L 384.64 274.61 L 384.82 270.33 L 385.07 268.01 L 385.19 268.90 L 385.44 265.50 L 385.50 268.19 L 385.56 266.39 L 385.62 261.09 L 385.68 264.71 L 385.87 265.46 L 385.99 268.44 L 386.05 263.32 L 386.12 263.68 L 386.30 262.43 L 386.43 255.88 L 386.49 261.78 L 386.55 259.56 L 386.86 258.67 L 386.92 259.38 L 386.98 256.02 L 387.17 255.98 L 387.23 256.54 L 387.35 254.49 L 387.41 255.10 L 387.72 254.49 L 387.78 254.76 L 387.84 256.91 L 388.09 256.26 L 388.15 257.54 L 388.28 254.49 L 388.46 258.72 L 388.65 254.49 L 388.71 256.30 L 388.89 254.49 L 389.08 257.79 L 389.14 255.70 L 389.39 254.49 L 389.45 254.49 L 389.82 263.37 L 389.88 263.90 L 390.25 259.65 L 390.37 262.36 L 390.68 255.54 L 390.74 256.06 L 390.87 254.97 L 391.18 254.49 L 391.24 255.46 L 391.30 254.54 L 391.55 258.49 L 391.61 260.18 L 391.73 257.04 L 391.92 257.42 L 391.98 258.25 L 392.04 254.90 L 392.16 259.82 L 392.41 256.08 L 392.53 263.48 L 392.60 263.20 L 392.78 261.53 L 392.84 262.18 L 392.90 259.43 L 392.97 264.83 L 393.03 262.67 L 393.21 265.37 L 393.27 262.18 L 393.34 264.15 L 393.40 262.68 L 393.46 265.85 L 393.71 268.85 L 393.89 266.42 L 394.20 268.02 L 394.32 267.40 L 394.63 263.50 L 394.69 264.49 L 394.76 267.95 L 395.00 265.41 L 395.13 261.02 L 395.19 262.28 L 395.37 261.27 L 395.43 256.91 L 395.56 261.67 L 395.62 260.49 L 395.80 260.64 L 395.87 260.13 L 395.99 254.49 L 396.05 260.45 L 396.36 257.49 L 396.42 257.54 L 396.48 257.77 L 396.67 254.56 L 396.73 256.53 L 396.79 256.40 L 396.91 255.48 L 397.10 255.43 L 397.22 254.49 L 397.28 254.49 L 397.35 254.75 L 397.66 257.84 L 397.72 255.43 L 397.78 256.48 L 397.96 257.53 L 398.09 254.49 L 398.15 257.25 L 398.21 254.49 L 398.58 254.49 L 398.64 254.64 L 398.83 254.49 L 398.89 255.06 L 398.95 255.03 L 399.01 254.49 L 399.07 256.09 L 399.26 255.81 L 399.38 254.49 L 399.51 255.30 L 399.69 254.52 L 399.81 256.36 L 399.88 255.46 L 400.12 255.47 L 400.31 254.49 L 400.56 254.49 L 400.62 256.82 L 400.68 255.90 L 400.74 255.07 L 400.80 255.56 L 400.99 255.02 L 401.05 255.23 L 401.17 254.49 L 401.23 255.00 L 401.42 255.16 L 401.48 255.92 L 401.54 254.49 L 401.60 254.89 L 401.85 257.17 L 401.91 256.97 L 401.97 259.38 L 402.04 256.82 L 402.10 258.96 L 402.41 256.46 L 402.47 258.17 L 402.53 257.35 L 402.71 259.94 L 402.78 259.48 L 402.96 260.11 L 403.15 258.55 L 403.21 260.42 L 403.27 258.91 L 403.33 260.40 L 403.39 257.02 L 403.70 261.18 L 403.76 254.49 L 403.83 257.95 L 404.01 255.45 L 404.07 256.18 L 404.13 259.10 L 404.20 257.04 L 404.44 254.49 L 404.50 254.94 L 404.57 254.49 L 404.63 254.83 L 404.69 254.74 L 404.87 255.49 L 405.00 254.49 L 405.12 254.49 L 405.31 255.46 L 405.37 256.45 L 405.43 254.49 L 405.49 256.02 L 405.55 256.97 L 405.86 254.49 L 405.92 258.22 L 405.99 255.06 L 406.17 254.49 L 406.36 256.55 L 406.42 254.49 L 406.60 254.49 L 406.66 255.24 L 406.73 258.10 L 406.85 254.49 L 407.03 254.49 L 407.10 259.00 L 407.22 254.49 L 407.47 254.49 L 407.59 255.73 L 407.71 254.49 L 407.90 257.77 L 407.96 257.73 L 408.02 254.49 L 408.08 254.54 L 408.14 257.52 L 408.45 255.18 L 408.51 255.94 L 408.58 255.86 L 408.76 256.17 L 408.82 254.62 L 408.89 256.49 L 408.95 256.06 L 409.19 254.49 L 409.44 257.30 L 409.63 257.39 L 409.69 258.61 L 409.75 256.67 L 409.81 257.27 L 409.87 260.71 L 410.06 264.06 L 410.12 262.25 L 410.18 262.49 L 410.49 268.79 L 410.74 264.59 L 410.92 267.38 L 410.98 266.44 L 411.04 267.17 L 411.17 267.21 L 411.42 266.40 L 411.48 267.86 L 411.54 267.13 L 411.60 268.11 L 411.91 260.53 L 411.97 260.58 L 412.03 262.40 L 412.22 259.90 L 412.28 260.74 L 412.40 258.63 L 412.46 261.17 L 412.71 258.72 L 412.77 259.10 L 412.90 254.49 L 413.14 257.69 L 413.20 261.87 L 413.27 258.76 L 413.33 258.21 L 413.51 261.43 L 413.70 255.24 L 413.76 257.22 L 413.94 256.93 L 414.01 258.07 L 414.07 254.79 L 414.13 258.36 L 414.19 256.88 L 414.44 254.49 L 414.50 254.49 L 414.62 255.22 L 414.87 254.52 L 414.93 255.24 L 414.99 254.70 L 415.06 254.49 L 415.24 254.49 L 415.43 259.41 L 415.49 254.49 L 415.73 254.49 L 415.86 258.21 L 415.92 256.24 L 416.10 255.63 L 416.17 257.41 L 416.23 256.10 L 416.29 254.79 L 416.35 255.38 L 416.54 258.94 L 416.60 262.43 L 416.66 259.93 L 416.72 258.34 L 416.78 258.84 L 417.03 261.04 L 417.09 258.60 L 417.15 259.52 L 417.22 259.65 L 417.46 263.14 L 417.52 261.82 L 417.65 265.51 L 417.83 264.91 L 418.02 260.51 L 418.08 263.33 L 418.26 265.41 L 418.33 267.39 L 418.39 266.99 L 418.45 265.16 L 418.51 265.93 L 418.76 266.86 L 418.94 265.65 L 419.19 263.46 L 419.37 260.58 L 419.56 259.78 L 419.62 261.47 L 419.68 260.67 L 419.75 261.49 L 419.81 257.44 L 419.99 261.96 L 420.12 254.49 L 420.18 256.46 L 420.24 259.13 L 420.42 256.86 L 420.49 254.53 L 420.55 255.54 L 420.61 254.95 L 420.67 255.09 L 420.92 254.61 L 421.35 261.44 L 421.41 261.49 L 421.78 269.15 L 421.84 270.25 L 421.90 273.72 L 421.97 273.47 L 422.15 274.18 L 422.21 272.97 L 422.27 275.67 L 422.34 273.63 L 422.40 272.92 L 422.58 275.28 L 422.65 275.14 L 422.71 275.39 L 422.83 274.20 L 423.02 275.77 L 423.57 268.88 L 423.69 266.44 L 423.88 266.12 L 424.00 268.80 L 424.06 267.42 L 424.13 268.45 L 424.43 272.11 L 424.50 270.52 L 424.56 271.21 L 424.80 273.09 L 424.87 272.93 L 424.93 272.86 L 425.24 269.11 L 425.30 269.11 L 425.36 268.61 L 425.42 274.77 L 425.73 268.40 L 425.79 268.66 L 425.85 270.87 L 426.04 268.86 L 426.16 263.60 L 426.29 266.44 L 426.59 263.21 L 426.66 263.40 L 426.72 264.17 L 426.90 264.60 L 426.96 263.52 L 427.03 267.17 L 427.09 264.60 L 427.15 266.74 L 427.33 266.36 L 427.46 270.54 L 427.52 269.68 L 427.58 269.68 L 427.77 270.19 L 427.89 269.00 L 428.01 269.64 L 428.45 266.90 L 428.63 267.43 L 428.69 265.23 L 428.82 265.62 L 428.88 267.76 L 429.06 267.13 L 429.25 273.50 L 429.31 267.64 L 429.49 267.80 L 429.56 271.98 L 429.62 271.67 L 429.68 269.94 L 429.74 270.79 L 429.93 273.37 L 430.05 278.09 L 430.17 275.70 L 430.42 282.28 L 430.48 278.61 L 430.54 282.01 L 430.60 279.33 L 430.79 281.50 L 430.91 279.21 L 431.22 286.32 L 431.28 287.10 L 431.41 285.21 L 431.47 285.71 L 431.72 287.93 L 431.78 287.85 L 431.84 287.27 L 431.90 287.50 L 432.09 287.34 L 432.15 288.97 L 432.21 286.07 L 432.27 288.83 L 432.33 286.53 L 432.52 289.23 L 432.58 285.18 L 432.64 288.06 L 432.70 285.07 L 432.76 289.04 L 432.95 287.69 L 433.01 283.83 L 433.13 286.43 L 433.20 285.43 L 433.38 285.79 L 433.44 289.77 L 433.57 283.72 L 433.63 286.02 L 433.81 283.28 L 433.94 284.32 L 434.06 283.27 L 434.25 282.44 L 434.31 283.56 L 434.37 283.33 L 434.43 283.04 L 434.49 285.94 L 434.68 287.28 L 434.74 285.96 L 434.80 286.40 L 434.92 286.51 L 435.11 285.03 L 435.17 285.42 L 435.23 287.30 L 435.29 284.51 L 435.36 284.57 L 435.79 278.72 L 435.97 279.82 L 436.16 283.28 L 436.47 288.13 L 436.53 285.92 L 436.59 285.95 L 436.65 286.10 L 436.84 290.54 L 436.90 288.27 L 437.27 297.49 L 437.39 302.23 L 437.76 314.32 L 438.13 309.38 L 438.19 310.77 L 438.38 304.83 L 438.56 303.03 L 438.69 300.47 L 438.81 303.78 L 439.00 305.87 L 439.18 299.10 L 439.24 301.96 L 439.43 305.17 L 439.49 300.92 L 439.55 301.48 L 439.68 301.57 L 439.86 301.16 L 439.92 301.43 L 440.11 303.31 L 440.29 305.36 L 440.35 302.59 L 440.42 302.90 L 440.54 310.30 L 440.72 308.99 L 440.79 307.71 L 441.16 314.21 L 441.40 309.01 L 441.71 313.23 L 441.77 313.03 L 441.83 312.98 L 442.02 314.20 L 442.08 313.71 L 442.27 310.14 L 442.51 307.55 L 442.58 309.83 L 442.88 297.55 L 442.95 297.63 L 443.13 300.57 L 443.32 298.12 L 443.50 293.92 L 443.56 296.77 L 443.75 298.88 L 443.81 298.03 L 443.87 298.96 L 443.93 298.54 L 443.99 293.01 L 444.18 293.32 L 444.24 292.56 L 444.36 289.01 L 444.43 292.17 L 444.61 288.50 L 444.67 288.89 L 444.74 289.42 L 444.80 288.41 L 444.86 290.40 L 445.23 284.61 L 445.48 285.28 L 445.72 284.01 L 446.15 290.44 L 446.34 287.29 L 446.46 292.87 L 446.52 291.09 L 446.59 288.61 L 446.96 294.23 L 447.02 294.59 L 447.20 293.58 L 447.39 289.80 L 447.45 291.23 L 447.64 289.24 L 447.82 285.73 L 447.88 287.08 L 448.19 282.33 L 448.62 288.87 L 448.68 286.14 L 448.75 287.64 L 448.93 287.86 L 449.05 291.28 L 449.12 287.90 L 449.18 291.62 L 449.36 295.32 L 449.42 291.97 L 449.49 294.20 L 449.55 293.67 L 449.61 290.81 L 449.79 294.36 L 449.86 292.26 L 449.92 295.18 L 450.04 291.63 L 450.35 299.70 L 450.41 299.00 L 450.47 298.09 L 450.78 302.54 L 450.84 302.77 L 450.91 302.45 L 451.21 297.99 L 451.34 298.16 L 451.52 293.41 L 451.58 298.37 L 451.65 295.21 L 451.71 289.10 L 451.77 291.97 L 451.95 290.39 L 452.02 288.49 L 452.08 290.52 L 452.14 289.05 L 452.20 286.14 L 452.45 284.39 L 452.51 284.99 L 452.82 280.59 L 452.94 280.09 L 453.25 281.49 L 453.44 286.81 L 453.50 284.00 L 453.74 288.42 L 453.87 285.37 L 453.93 287.62 L 454.18 292.29 L 454.24 288.94 L 454.30 289.47 L 454.55 298.48 L 454.61 298.99 L 454.67 297.31 L 454.73 299.30 L 454.79 298.36 L 455.22 303.63 L 455.41 303.41 L 455.47 300.36 L 455.53 303.17 L 455.66 303.31 L 455.84 299.90 L 456.03 304.46 L 456.09 300.99 L 456.46 295.52 L 456.52 298.82 L 456.95 290.49 L 457.14 292.52 L 457.20 288.53 L 457.26 290.38 L 457.32 291.91 L 457.38 290.61 L 457.57 292.33 L 457.69 288.26 L 457.75 288.60 L 457.82 287.04 L 458.00 287.73 L 458.06 287.32 L 458.12 290.07 L 458.19 287.79 L 458.25 288.73 L 458.43 287.06 L 458.56 283.27 L 458.68 284.83 L 458.87 282.94 L 459.11 272.43 L 459.30 270.45 L 459.54 275.71 L 459.73 274.30 L 459.85 271.53 L 459.91 271.57 L 459.98 271.78 L 460.35 268.19 L 460.41 269.47 L 460.59 269.63 L 460.72 265.26 L 460.78 265.84 L 460.84 266.17 L 461.02 261.25 L 461.15 265.25 L 461.21 264.67 L 461.27 265.87 L 461.52 264.22 L 461.58 264.53 L 462.44 274.05 L 462.51 276.09 L 462.57 275.90 L 463.18 266.01 L 463.43 256.37 L 463.62 262.75 L 463.68 259.84 L 463.80 260.76 L 463.86 262.63 L 464.23 259.33 L 464.30 255.87 L 464.48 260.03 L 464.67 254.49 L 464.73 254.49 L 464.91 255.31 L 464.97 257.29 L 465.16 254.49 L 465.53 254.49 L 465.78 258.36 L 465.96 256.57 L 466.02 257.36 L 466.21 257.55 L 466.27 257.48 L 466.33 257.28 L 466.39 257.65 L 466.64 255.95 L 466.70 257.83 L 466.76 256.92 L 466.82 256.50 L 466.89 256.63 L 467.13 259.93 L 467.32 267.23 L 467.50 270.45 L 467.57 275.06 L 467.63 273.46 L 467.94 284.51 L 468.00 291.66 L 468.06 286.12 L 468.12 291.66 L 468.18 290.29 L 468.61 309.01 L 469.05 340.37 L 469.23 346.57 L 469.29 344.67 L 469.35 346.58 L 469.42 345.03 L 469.48 345.16 L 469.79 329.11 L 469.85 329.08 L 470.10 313.27 L 470.16 315.14 L 470.22 312.46 L 470.28 315.21 L 470.53 299.56 L 470.59 301.58 L 470.65 295.31 L 470.77 303.85 L 470.96 302.41 L 471.21 294.69 L 471.39 291.63 L 471.58 296.64 L 471.64 290.34 L 471.82 293.87 L 472.01 291.65 L 472.07 291.97 L 472.25 293.82 L 472.32 293.78 L 472.44 292.31 L 472.50 294.80 L 472.69 295.20 L 472.75 295.09 L 472.87 292.94 L 472.93 293.45 L 473.12 294.66 L 473.24 287.20 L 473.37 288.43 L 473.55 281.69 L 473.61 288.62 L 473.67 285.50 L 473.74 288.04 L 473.80 286.70 L 474.17 264.79 L 474.23 265.89 L 474.48 263.31 L 474.54 263.66 L 474.91 272.84 L 475.03 275.42 L 475.09 277.66 L 475.28 280.24 L 475.46 273.61 L 475.53 274.89 L 475.71 273.63 L 475.77 274.80 L 476.14 262.26 L 476.39 258.85 L 476.57 258.16 L 476.64 263.69 L 476.70 260.95 L 476.76 255.49 L 476.82 257.68 L 477.01 256.82 L 477.07 257.10 L 477.13 256.67 L 477.19 254.90 L 477.25 255.25 L 477.44 255.52 L 477.68 262.47 L 477.87 262.74 L 477.93 262.12 L 477.99 267.62 L 478.06 265.10 L 478.12 265.79 L 478.49 272.54 L 479.29 254.49 L 479.35 256.34 L 479.41 257.97 L 479.84 254.49 L 480.15 259.56 L 480.46 269.62 L 480.65 272.98 L 480.71 272.02 L 480.96 266.75 L 481.02 268.63 L 481.33 261.62 L 481.39 261.63 L 481.45 261.31 L 481.76 256.88 L 481.82 257.17 L 481.88 256.88 L 482.00 258.05 L 482.25 260.66 L 482.31 257.56 L 482.37 258.94 L 482.44 257.58 L 482.81 267.69 L 483.11 273.01 L 483.18 272.70 L 483.55 254.49 L 483.61 254.51 L 483.67 255.32 L 483.73 254.49 L 483.92 255.64 L 484.04 254.49 L 484.10 254.49 L 484.16 254.74 L 484.35 257.54 L 484.53 254.49 L 484.60 254.84 L 484.78 255.20 L 484.84 254.49 L 484.90 255.22 L 484.97 255.21 L 485.03 254.49 L 485.34 254.49 L 485.40 256.19 L 485.46 254.49 L 485.71 254.49 L 485.77 255.58 L 485.83 255.02 L 485.89 255.19 L 486.14 254.49 L 486.20 254.49 L 486.26 257.52 L 486.51 257.74 L 486.57 259.11 L 486.63 257.94 L 487.00 254.49 L 487.06 255.81 L 487.13 254.65 L 487.19 256.39 L 487.43 259.09 L 487.50 258.20 L 487.56 254.49 L 487.62 257.14 L 487.87 254.49 L 488.36 261.87 L 488.48 260.79 L 489.10 271.87 L 489.22 272.96 L 489.35 270.75 L 489.72 264.94 L 489.96 261.16 L 490.21 263.10 L 490.46 264.85 L 490.83 272.66 L 491.01 274.56 L 491.26 271.50 L 491.32 270.44 L 491.38 272.25 L 491.44 271.08 L 491.51 272.03 L 491.88 264.31 L 491.94 266.45 L 492.12 263.89 L 492.19 265.34 L 492.37 259.89 L 492.56 262.12 L 492.80 254.49 L 492.99 257.24 L 493.05 255.08 L 493.11 256.59 L 493.23 254.56 L 493.42 254.49 L 493.60 255.89 L 493.67 256.04 L 493.85 254.60 L 493.91 254.84 L 494.10 256.79 L 494.28 256.34 L 494.34 256.40 L 494.47 257.64 L 494.53 262.04 L 494.72 262.21 L 494.78 262.12 L 494.96 263.84 L 495.21 260.60 L 495.27 261.22 L 495.33 262.35 L 495.39 258.61 L 495.58 259.74 L 495.70 254.49 L 495.76 258.89 L 495.83 257.75 L 496.01 257.51 L 496.20 254.49 L 496.26 254.49 L 496.44 255.13 L 496.50 254.49 L 496.63 256.26 L 496.69 254.49 L 496.94 256.08 L 497.00 255.22 L 497.12 259.60 L 497.31 254.49 L 497.43 256.26 L 497.49 255.98 L 497.55 257.08 L 497.74 257.64 L 497.92 254.49 L 497.99 254.49 L 498.17 257.14 L 498.23 255.96 L 498.29 257.90 L 498.36 254.83 L 498.42 255.79 L 498.60 255.92 L 498.66 256.21 L 498.79 259.68 L 498.85 256.45 L 499.10 260.14 L 499.28 257.42 L 499.47 255.85 L 499.65 258.55 L 499.71 257.45 L 499.90 263.34 L 499.96 261.05 L 500.08 264.56 L 500.14 262.91 L 500.33 264.95 L 500.45 262.71 L 500.52 269.49 L 500.58 267.88 L 500.76 265.87 L 501.19 273.17 L 501.38 271.26 L 501.75 266.49 L 501.87 263.53 L 502.06 263.44 L 502.12 262.91 L 502.30 267.97 L 502.49 266.02 L 502.55 267.17 L 502.61 262.50 L 502.67 265.00 L 502.92 271.63 L 502.98 266.98 L 503.05 269.26 L 503.11 270.03 L 503.17 274.62 L 503.42 270.13 L 503.54 273.13 L 503.60 272.86 L 503.79 273.00 L 503.85 274.75 L 503.91 272.91 L 504.03 277.96 L 504.22 279.43 L 504.28 281.11 L 504.34 280.72 L 504.40 280.48 L 504.46 281.03 L 504.65 280.57 L 504.71 279.77 L 504.77 281.48 L 504.83 280.38 L 504.90 278.67 L 505.08 276.82 L 505.14 278.24 L 505.27 275.02 L 505.33 276.34 L 505.51 275.36 L 506.44 283.20 L 506.62 280.32 L 506.81 279.59 L 506.87 275.37 L 506.93 277.99 L 506.99 277.87 L 507.06 282.25 L 507.36 278.44 L 507.43 277.20 L 507.49 278.89 L 507.67 274.51 L 507.80 278.61 L 507.86 277.28 L 507.92 279.25 L 508.17 276.46 L 508.23 277.00 L 508.29 276.09 L 508.35 276.68 L 508.54 276.77 L 508.66 278.60 L 508.72 278.49 L 508.78 278.24 L 508.97 278.90 L 509.03 276.75 L 509.09 282.15 L 509.15 281.64 L 509.40 283.12 L 509.46 277.40 L 509.52 279.26 L 509.65 281.69 L 509.83 279.16 L 510.02 284.83 L 510.08 280.31 L 510.33 281.42 L 510.39 280.50 L 510.51 284.65 L 510.70 284.84 L 510.76 285.45 L 510.94 289.39 L 511.13 289.83 L 511.19 289.51 L 511.25 291.76 L 511.31 289.40 L 511.38 295.81 L 511.56 297.68 L 511.62 294.42 L 511.75 301.86 L 511.81 297.83 L 511.99 299.93 L 512.18 305.00 L 512.24 306.59 L 512.42 306.94 L 512.67 309.11 L 512.98 306.71 L 513.04 305.23 L 513.10 305.81 L 513.35 306.99 L 513.53 299.33 L 513.72 300.63 L 513.78 298.20 L 513.84 301.48 L 513.90 298.30 L 513.97 299.86 L 514.21 297.45 L 514.40 300.12 L 514.65 297.76 L 514.71 296.42 L 514.83 297.80 L 515.02 298.96 L 515.08 298.12 L 515.20 300.66 L 515.26 299.49 L 515.45 302.39 L 515.57 297.44 L 515.69 301.86 L 515.94 305.52 L 516.06 302.09 L 516.31 305.13 L 516.50 309.11 L 516.80 309.11 L 516.87 309.68 L 516.99 313.69 L 517.24 309.93 L 517.30 311.82 L 517.36 311.38 L 517.61 306.60 L 517.67 308.38 L 517.85 304.52 L 518.04 304.22 L 518.10 304.37 L 518.47 309.13 L 518.53 308.89 L 518.72 313.79 L 519.09 317.68 L 519.15 316.54 L 519.33 317.54 L 519.58 322.83 L 520.01 331.74 L 520.20 332.52 L 520.75 323.09 L 520.82 323.94 L 521.12 329.94 L 521.19 329.59 L 521.31 331.85 L 521.49 333.82 L 521.62 332.00 L 521.68 330.52 L 521.74 331.12 L 521.93 329.68 L 521.99 326.60 L 522.05 327.01 L 522.11 327.02 L 522.17 324.43 L 522.36 322.12 L 522.48 319.36 L 522.54 321.70 L 522.61 321.38 L 522.79 320.21 L 522.85 322.36 L 522.91 322.13 L 522.98 317.99 L 523.04 321.34 L 523.35 316.01 L 523.41 316.32 L 523.47 315.35 L 523.84 313.86 L 523.90 314.08 L 524.09 313.19 L 524.15 313.25 L 524.33 316.81 L 524.52 316.59 L 524.58 315.98 L 524.64 311.81 L 524.70 318.56 L 524.76 315.44 L 524.95 316.07 L 525.13 319.45 L 525.38 317.54 L 525.44 322.02 L 525.51 318.22 L 525.57 320.39 L 525.63 317.65 L 525.81 319.59 L 525.88 318.65 L 526.06 322.92 L 526.49 333.55 L 526.68 335.10 L 526.92 332.46 L 527.17 324.94 L 527.23 328.51 L 527.36 323.48 L 527.66 320.77 L 527.73 322.09 L 527.79 321.17 L 528.10 310.50 L 528.16 312.58 L 528.22 316.66 L 528.59 306.20 L 528.65 307.52 L 528.84 303.23 L 528.90 304.58 L 528.96 303.34 L 529.02 303.48 L 529.08 303.57 L 529.27 301.80 L 529.39 303.08 L 529.45 302.49 L 529.52 302.89 L 529.70 302.03 L 529.82 303.98 L 529.89 299.38 L 529.95 302.51 L 530.13 303.82 L 530.26 306.30 L 530.38 303.46 L 530.63 307.93 L 530.69 306.29 L 530.75 310.72 L 530.81 309.92 L 531.00 310.77 L 531.24 314.14 L 531.43 311.11 L 532.11 323.38 L 532.29 320.46 L 532.35 322.15 L 532.42 320.96 L 532.54 315.92 L 532.72 314.12 L 532.97 305.40 L 533.16 299.73 L 533.22 300.34 L 533.28 302.39 L 533.34 298.03 L 533.40 298.29 L 533.84 286.11 L 534.08 287.68 L 534.27 290.21 L 534.45 289.49 L 534.58 286.88 L 534.64 286.72 L 534.88 282.21 L 534.95 282.03 L 535.13 283.57 L 535.32 284.95 L 535.50 287.61 L 535.56 287.56 L 535.75 289.91 L 535.81 293.07 L 535.87 292.80 L 535.99 293.42 L 536.43 283.39 L 536.61 284.75 L 536.80 287.92 L 537.23 282.87 L 537.29 280.16 L 537.48 277.74 L 537.54 278.67 L 537.66 276.00 L 537.72 276.13 L 537.97 273.40 L 538.03 273.84 L 538.09 273.74 L 538.15 272.28 L 538.34 272.40 L 538.40 272.92 L 538.46 269.28 L 538.52 270.03 L 538.89 269.01 L 539.27 273.58 L 539.33 273.00 L 539.39 275.53 L 539.64 276.66 L 539.88 273.00 L 540.07 272.20 L 540.13 270.38 L 540.19 273.44 L 540.31 269.65 L 540.56 263.92 L 540.62 266.35 L 540.68 262.09 L 540.75 264.63 L 540.99 268.81 L 541.05 261.43 L 541.12 261.87 L 541.18 262.92 L 541.49 262.65 L 541.55 258.17 L 541.61 258.66 L 541.79 255.74 L 541.86 256.40 L 541.92 257.01 L 542.04 255.03 L 542.35 258.23 L 542.41 257.76 L 542.66 262.74 L 542.72 262.60 L 542.91 264.70 L 543.09 264.43 L 543.58 256.96 L 543.65 258.81 L 543.77 255.79 L 543.95 257.43 L 544.02 257.29 L 544.08 257.38 L 544.14 254.87 L 544.20 256.69 L 544.51 254.49 L 544.57 255.82 L 544.63 254.98 L 544.82 254.78 L 545.44 263.07 L 545.50 262.73 L 545.68 264.37 L 545.93 267.25 L 546.24 270.41 L 546.55 267.19 L 546.61 267.31 L 546.73 264.08 L 546.79 266.73 L 546.98 263.30 L 547.04 264.77 L 547.10 259.69 L 547.16 262.09 L 547.22 262.75 L 547.53 261.77 L 547.60 259.43 L 547.66 260.53 L 547.90 260.51 L 548.46 266.08 L 548.52 268.32 L 548.71 266.16 L 548.95 272.51 L 549.14 272.92 L 549.20 272.61 L 549.26 273.97 L 549.32 273.60 L 549.38 273.38 L 549.69 283.50 L 549.82 280.24 L 550.00 283.39 L 550.12 287.67 L 550.19 286.84 L 550.25 288.86 L 550.56 292.76 L 550.87 286.53 L 550.93 287.10 L 551.05 285.68 L 551.11 283.27 L 551.36 279.49 L 551.48 274.47 L 551.54 277.62 L 551.73 276.63 L 551.91 270.28 L 551.98 268.66 L 552.22 271.86 L 552.28 271.12 L 552.41 272.99 L 552.59 271.16 L 552.65 268.08 L 552.72 269.33 L 552.78 269.09 L 552.84 269.29 L 553.02 270.11 L 553.09 264.59 L 553.15 269.75 L 553.21 267.85 L 553.27 264.41 L 553.46 265.40 L 553.58 258.95 L 553.64 261.67 L 553.70 260.13 L 553.95 260.85 L 554.14 257.18 L 554.51 254.62 L 554.57 254.70 L 554.88 261.59 L 554.94 265.12 L 555.00 264.98 L 555.37 273.94 L 555.43 274.41 L 555.68 277.19 L 555.74 276.84 L 555.86 275.06 L 556.05 274.85 L 556.48 265.48 L 556.54 266.41 L 556.73 257.44 L 556.91 260.14 L 557.10 257.05 L 557.16 255.79 L 557.34 256.36 L 557.53 254.94 L 557.90 258.07 L 558.21 255.17 L 558.27 254.96 L 558.64 258.34 L 558.89 255.24 L 559.07 255.40 L 559.32 259.44 L 559.69 254.62 L 560.00 258.30 L 560.18 255.29 L 560.37 255.96 L 560.37 255.96 " clip-path="url(#p6d332bae23)" style="fill: none; stroke: #0000ff; stroke-width: 1.650; stroke-linecap: square"/> </g> <g id="line2d_50"> <path d="M 103.82 254.61 L 103.95 254.98 L 104.50 257.32 L 105.30 264.83 L 107.71 264.83 L 107.83 266.41 L 108.20 271.31 L 110.55 271.31 L 110.86 272.35 L 111.23 274.26 L 111.41 276.85 L 111.60 283.05 L 111.84 311.37 L 112.09 312.00 L 115.92 312.20 L 116.04 312.76 L 116.41 314.51 L 139.06 314.51 L 139.36 313.09 L 139.67 310.88 L 140.54 296.46 L 140.78 290.70 L 141.09 290.43 L 144.67 290.10 L 145.10 283.26 L 155.65 282.75 L 157.07 278.15 L 157.38 277.48 L 157.44 277.75 L 158.24 290.33 L 158.92 300.83 L 181.32 300.83 L 181.75 296.15 L 183.54 296.15 L 183.98 286.09 L 184.84 285.22 L 185.02 287.77 L 185.21 301.91 L 194.34 301.91 L 195.58 314.15 L 198.23 314.22 L 198.54 316.31 L 205.14 316.31 L 205.32 316.77 L 205.76 324.68 L 207.67 325.00 L 207.98 327.62 L 208.60 337.38 L 209.71 339.83 L 210.94 340.82 L 211.00 341.06 L 211.56 354.25 L 212.24 396.09 L 234.33 396.01 L 234.76 389.74 L 236.11 389.46 L 236.98 374.27 L 242.59 374.27 L 243.40 357.94 L 244.01 346.68 L 244.44 340.56 L 245.25 335.70 L 245.74 335.20 L 245.99 331.30 L 246.17 326.48 L 246.60 323.90 L 247.47 318.96 L 249.01 309.53 L 251.23 284.34 L 259.13 284.27 L 259.38 283.86 L 259.75 283.05 L 269.93 283.05 L 270.11 282.93 L 270.55 278.22 L 275.11 278.22 L 275.54 284.59 L 275.98 292.11 L 276.84 296.76 L 277.27 315.23 L 277.95 315.23 L 278.38 321.64 L 300.60 321.64 L 301.03 307.31 L 305.65 307.31 L 305.96 303.35 L 319.48 303.35 L 319.91 286.65 L 340.15 286.65 L 340.58 281.71 L 340.95 278.15 L 343.79 278.10 L 344.59 276.71 L 351.38 276.71 L 351.56 277.15 L 351.99 279.09 L 352.30 279.30 L 365.63 279.30 L 365.82 283.27 L 366.25 295.43 L 388.52 295.33 L 389.14 294.85 L 399.26 294.85 L 399.88 285.15 L 401.23 279.95 L 405.43 279.95 L 405.55 279.25 L 405.92 277.07 L 408.14 277.07 L 408.33 276.42 L 409.01 268.79 L 421.10 268.79 L 421.29 270.21 L 421.53 276.62 L 421.78 278.15 L 429.74 278.15 L 429.93 278.80 L 430.48 286.76 L 430.60 288.66 L 432.33 289.01 L 432.76 289.64 L 433.13 290.10 L 436.65 290.20 L 437.08 294.25 L 437.33 299.86 L 437.82 314.87 L 464.73 315.23 L 465.10 310.36 L 465.59 303.71 L 468.37 303.71 L 468.55 311.92 L 469.29 347.27 L 491.94 347.27 L 492.12 344.74 L 492.74 313.77 L 492.99 308.36 L 493.67 299.22 L 494.78 295.02 L 495.33 293.25 L 495.76 288.69 L 496.13 283.08 L 497.12 281.10 L 497.55 274.91 L 503.35 274.91 L 503.48 277.68 L 503.85 285.78 L 507.30 285.78 L 507.36 286.07 L 507.80 291.18 L 510.51 291.18 L 510.94 296.91 L 511.31 309.11 L 516.80 309.11 L 516.87 309.68 L 516.99 313.69 L 517.36 313.79 L 518.72 313.79 L 519.46 321.59 L 519.58 322.83 L 520.20 333.95 L 526.00 333.98 L 526.43 335.97 L 548.95 335.97 L 549.26 334.05 L 549.82 328.71 L 550.25 324.90 L 550.56 323.51 L 554.75 323.51 L 554.81 323.15 L 555.74 309.07 L 556.23 304.13 L 556.67 293.33 L 560.37 292.66 L 560.37 292.66 " clip-path="url(#p6d332bae23)" style="fill: none; stroke: #ff0000; stroke-width: 1.5; stroke-linecap: square"/> </g> <g id="patch_9"> <path d="M 81.47 403.57 L 81.47 248.05" style="fill: none; stroke: #000000; stroke-width: 0.72; stroke-linejoin: miter; stroke-linecap: square"/> </g> <g id="patch_10"> <path d="M 583.31 403.57 L 583.31 248.05" style="fill: none; stroke: #000000; stroke-width: 0.72; stroke-linejoin: miter; stroke-linecap: square"/> </g> <g id="patch_11"> <path d="M 81.47 403.57 L 583.31 403.57" style="fill: none; stroke: #000000; stroke-width: 0.72; stroke-linejoin: miter; stroke-linecap: square"/> </g> <g id="patch_12"> <path d="M 81.47 248.05 L 583.31 248.05" style="fill: none; stroke: #000000; stroke-width: 0.72; stroke-linejoin: miter; stroke-linecap: square"/> </g> <g id="legend_2"> <g transform="matrix(0.997251 0 0 1.023604 0.7464 -9.0597)" id="patch_13"> <path d="M 88 398.2 L 176.41 398.2 Q 178.41 398.2 178.41 396.2 L 178.41 367.84 Q 178.41 365.84 176.41 365.84 L 88 365.84 Q 86 365.84 86 367.84 L 86 396.2 Q 86 398.2 88 398.2 z " style="fill: #ffffff; opacity: 0.8; stroke: #cccccc; stroke-linejoin: miter"/> </g><g transform="translate(-0.2520 0.0720)"> <g id="line2d_51"> <path d="M 90 373.94 L 100 373.94 L 110 373.94 " style="fill: none; stroke: #0000ff; stroke-width: 1.5; stroke-linecap: square"/> </g> <g id="text_28"> <!-- KOSPI DD --> <text x="118.0000" y="377.4422" text-anchor="start" font-size="10" fill="#000000" font-family="'Liberation Sans', sans-serif">KOSPI DD</text> </g> <g id="line2d_52"> <path d="M 90 388.62 L 100 388.62 L 110 388.62 " style="fill: none; stroke: #ff0000; stroke-width: 1.5; stroke-linecap: square"/> </g> <g id="text_29"> <!-- KOSPI MDD --> <text x="118.0000" y="392.1203" text-anchor="start" font-size="10" fill="#000000" font-family="'Liberation Sans', sans-serif">KOSPI MDD</text> </g> </g></g> </g> </g> <defs> <clipPath id="p7fc77e7408"> <rect x="81" y="60.48" width="502.2" height="155.781818"/> </clipPath> <clipPath id="p6d332bae23"> <rect x="81" y="247.418182" width="502.2" height="155.781818"/> </clipPath> </defs> </svg> 
</body></html>
